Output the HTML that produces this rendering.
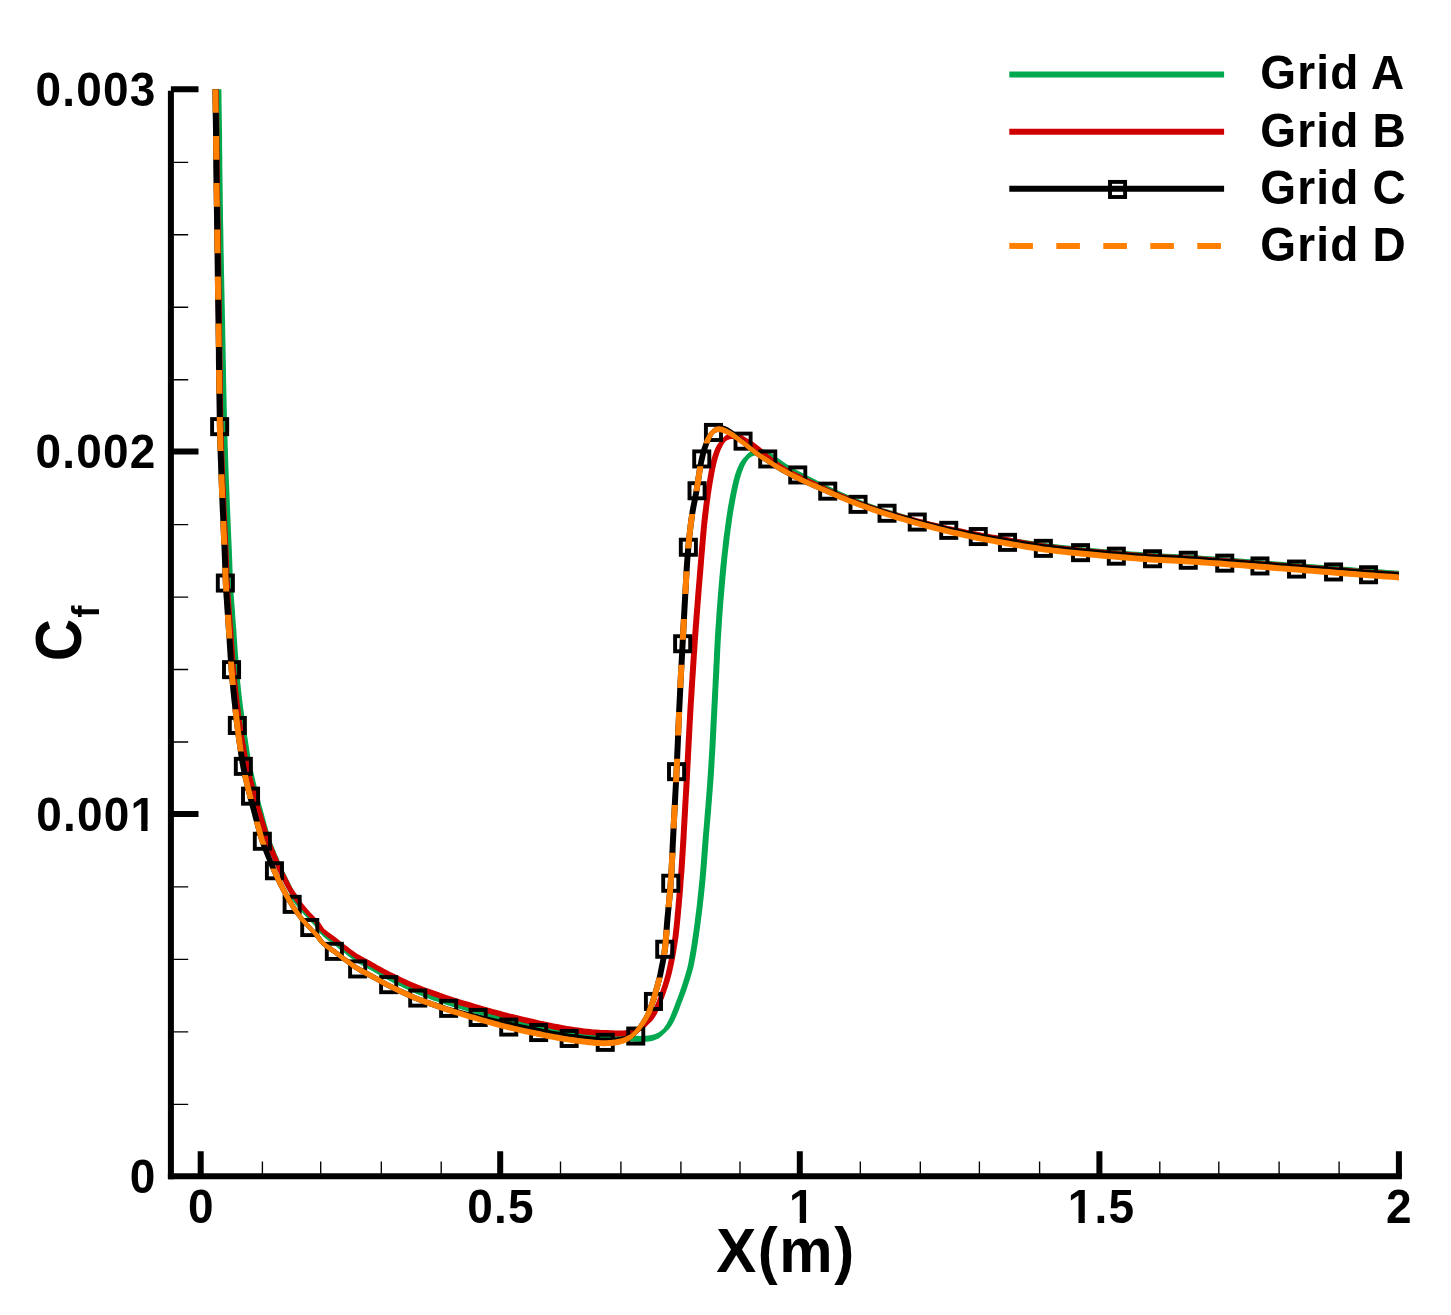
<!DOCTYPE html>
<html lang="en"><head><meta charset="utf-8"><title>Cf vs X - grid convergence</title>
<style>html,body{margin:0;padding:0;background:#fff}svg{display:block}</style></head>
<body>
<svg width="1451" height="1315" viewBox="0 0 1451 1315">
<defs>
<clipPath id="plot"><rect x="100" y="89.2" width="1299.0" height="1100"/></clipPath>
<clipPath id="dash"><rect x="100" y="80" width="200.0" height="32.8"/><rect x="100" y="136" width="200.0" height="23.7"/><rect x="100" y="183" width="200.0" height="23.8"/><rect x="100" y="229.6" width="200.0" height="23.7"/><rect x="100" y="276.6" width="200.0" height="23.2"/><rect x="100" y="323.5" width="200.0" height="23.4"/><rect x="100" y="370.1" width="200.0" height="23.7"/><rect x="100" y="417.1" width="200.0" height="33.8"/><rect x="100" y="474.2" width="200.0" height="23.7"/><rect x="100" y="521.1" width="200.0" height="23.7"/><rect x="100" y="567.7" width="200.0" height="23.7"/><rect x="100" y="614.7" width="200.0" height="23.7"/><rect x="100" y="661.6" width="200.0" height="23.4"/><rect x="100" y="709.2" width="200.0" height="42.4"/><rect x="100" y="774.9" width="200.0" height="24.1"/><rect x="100" y="821.5" width="200.0" height="23.2"/><rect x="100" y="868.5" width="200.0" height="331.5"/><rect x="300.0" y="0" width="342.0" height="1315"/><rect x="642.0" y="977.5" width="70.0" height="222.5"/><rect x="642.0" y="929.8" width="70.0" height="25.1"/><rect x="642.0" y="852.8" width="70.0" height="54.4"/><rect x="642.0" y="805.1" width="70.0" height="23.4"/><rect x="642.0" y="758.8" width="70.0" height="23.5"/><rect x="642.0" y="712" width="70.0" height="23.4"/><rect x="642.0" y="664.8" width="70.0" height="23.2"/><rect x="642.0" y="619.1" width="70.0" height="20.6"/><rect x="642.0" y="571.2" width="70.0" height="22.8"/><rect x="642.0" y="514.1" width="70.0" height="34.3"/><rect x="642.0" y="466.2" width="70.0" height="25.1"/><rect x="642.0" y="300" width="70.0" height="143.4"/><rect x="712.0" y="0" width="739.0" height="1315"/></clipPath>
</defs>
<rect width="1451" height="1315" fill="#fff"/>
<g clip-path="url(#plot)">
<path d="M215.2 60.0L215.2 64.1L215.2 68.2L215.3 72.2L215.3 76.2L215.3 80.4L215.4 84.6L215.4 89.0L215.5 94.5L215.5 100.1L215.6 105.9L215.7 111.8L215.8 117.8L215.9 123.9L216.0 130.0L216.1 136.9L216.1 144.0L216.2 151.1L216.3 158.3L216.3 165.6L216.4 172.8L216.5 180.0L216.6 187.2L216.7 194.3L216.8 201.5L216.9 208.6L217.0 215.8L217.1 222.9L217.3 230.1L217.4 237.2L217.5 244.3L217.6 251.5L217.8 258.6L217.9 265.8L218.0 272.9L218.2 280.1L218.3 287.2L218.5 294.3L218.6 301.5L218.8 308.6L218.9 315.8L219.1 322.9L219.2 330.1L219.3 337.2L219.5 344.4L219.6 351.6L219.7 358.7L219.9 365.9L220.0 373.0L220.2 380.1L220.3 386.9L220.4 393.8L220.6 400.6L220.7 407.4L220.9 414.0L221.0 420.5L221.2 426.8L221.3 431.8L221.4 436.7L221.6 441.4L221.7 446.1L221.9 450.7L222.0 455.3L222.2 460.1L222.4 465.1L222.5 470.0L222.7 475.0L222.9 480.1L223.1 485.1L223.3 490.1L223.5 495.1L223.7 500.1L223.9 505.2L224.1 510.3L224.3 515.3L224.5 520.3L224.7 525.3L224.9 530.1L225.1 534.6L225.3 539.0L225.5 543.4L225.7 547.7L225.9 551.9L226.1 556.1L226.2 560.1L226.3 563.5L226.4 566.9L226.5 570.1L226.6 573.4L226.7 576.6L226.9 579.8L227.0 583.1L227.2 586.6L227.4 590.1L227.6 593.6L227.9 597.1L228.1 600.6L228.4 604.0L228.6 607.2L228.8 609.9L229.0 612.5L229.2 615.0L229.4 617.5L229.6 620.0L229.8 622.6L230.0 625.2L230.2 628.4L230.4 631.6L230.6 634.9L230.9 638.2L231.1 641.6L231.3 644.9L231.5 648.2L231.8 651.3L232.0 654.4L232.2 657.6L232.4 660.6L232.6 663.7L232.9 666.8L233.1 669.8L233.4 672.8L233.6 675.8L233.9 678.7L234.2 681.7L234.5 684.6L234.8 687.5L235.1 690.3L235.4 693.0L235.7 695.6L236.0 698.2L236.3 700.7L236.6 703.3L236.9 705.8L237.2 708.4L237.5 710.9L237.9 713.4L238.2 715.8L238.5 718.3L238.9 720.8L239.2 723.3L239.6 725.8L240.0 728.4L240.4 731.1L240.8 733.7L241.2 736.3L241.6 739.0L242.0 741.7L242.5 744.5L243.0 747.6L243.5 750.8L244.0 754.2L244.5 757.5L245.0 760.7L245.6 763.9L246.2 766.9L246.6 769.1L247.1 771.2L247.6 773.3L248.0 775.2L248.5 777.2L249.0 779.2L249.5 781.2L249.9 783.2L250.4 785.3L250.9 787.3L251.4 789.4L251.9 791.5L252.4 793.6L253.0 795.7L253.6 798.2L254.3 800.7L254.9 803.2L255.6 805.8L256.3 808.3L257.0 810.8L257.6 813.2L258.2 815.3L258.7 817.4L259.2 819.3L259.8 821.3L260.3 823.3L260.9 825.3L261.4 827.3L262.0 829.4L262.6 831.5L263.2 833.7L263.9 835.8L264.5 837.9L265.2 840.1L265.9 842.1L266.6 844.0L267.3 845.9L268.1 847.7L268.8 849.5L269.6 851.3L270.3 853.2L271.2 855.1L272.2 857.5L273.2 860.0L274.4 862.6L275.5 865.3L276.7 867.8L277.7 870.2L278.7 872.3L279.4 873.7L280.0 874.9L280.6 876.1L281.1 877.2L281.7 878.2L282.2 879.3L282.8 880.5L283.4 881.8L284.0 883.1L284.7 884.4L285.3 885.7L286.0 887.0L286.6 888.3L287.3 889.6L288.0 891.0L288.9 892.5L289.8 894.1L290.5 895.5L291.1 896.7L291.3 897.4L291.0 896.7L294.6 893.9L294.9 894.6L294.4 894.3L293.9 893.8L293.4 893.2L292.6 892.0L288.7 895.3L289.3 896.2L290.1 897.1L291.0 898.4L292.1 899.9L293.3 901.5L294.4 903.0L295.3 904.2L295.9 905.0L296.5 905.8L297.2 906.6L297.8 907.3L298.4 908.1L299.0 908.8L299.6 909.6L300.3 910.4L300.9 911.1L301.6 911.9L302.3 912.7L303.0 913.5L303.7 914.3L304.3 915.0L304.9 915.6L305.5 916.2L306.1 916.8L306.6 917.4L307.2 918.0L307.8 918.6L308.4 919.3L309.3 920.2L310.2 921.2L311.2 922.2L312.1 923.2L313.1 924.2L314.0 925.3L314.8 926.3L315.6 927.4L316.4 928.6L317.2 929.7L318.0 930.9L319.0 932.2L320.1 933.4L321.3 934.5L322.7 936.0L324.3 937.4L326.0 938.8L327.8 940.2L329.5 941.4L331.3 942.7L332.9 944.0L334.5 945.2L336.1 946.4L337.7 947.7L339.2 949.0L340.8 950.2L342.4 951.5L344.0 952.8L345.8 954.1L347.5 955.5L349.3 956.9L351.1 958.2L352.9 959.6L354.8 960.9L356.6 962.2L358.5 963.4L360.4 964.5L362.3 965.6L364.2 966.6L366.1 967.6L368.0 968.7L370.0 969.8L372.3 971.1L374.6 972.4L377.0 973.8L379.4 975.3L382.0 976.7L384.6 978.2L387.4 979.8L391.2 981.8L395.4 983.9L399.8 986.1L404.3 988.2L408.7 990.3L412.9 992.2L416.7 993.9L419.3 995.0L421.7 996.0L424.0 996.9L426.2 997.8L428.4 998.6L430.6 999.4L432.8 1000.2L434.9 1000.9L437.0 1001.6L439.0 1002.4L441.0 1003.1L443.1 1003.8L445.3 1004.5L447.7 1005.3L451.5 1006.5L455.7 1007.8L460.2 1009.1L464.8 1010.5L469.3 1011.8L473.6 1013.0L477.4 1014.1L479.9 1014.8L482.3 1015.5L484.6 1016.1L486.8 1016.7L488.9 1017.3L491.1 1017.9L493.2 1018.5L495.3 1019.1L497.4 1019.6L499.4 1020.2L501.4 1020.7L503.5 1021.3L505.7 1021.8L508.1 1022.4L512.0 1023.3L516.2 1024.3L520.8 1025.4L525.5 1026.4L530.0 1027.4L534.3 1028.3L538.0 1029.1L540.2 1029.5L542.2 1029.9L544.0 1030.3L545.8 1030.7L547.6 1031.1L549.5 1031.4L551.4 1031.8L553.8 1032.2L556.1 1032.7L558.6 1033.1L561.0 1033.6L563.5 1034.0L566.1 1034.5L568.6 1034.9L571.5 1035.3L574.5 1035.8L577.5 1036.2L580.5 1036.6L583.5 1037.0L586.6 1037.4L589.6 1037.8L592.8 1038.2L596.0 1038.5L599.2 1038.9L602.4 1039.2L605.6 1039.6L608.7 1039.9L611.7 1040.2L614.4 1040.4L617.0 1040.6L619.6 1040.9L622.2 1041.0L624.8 1041.2L627.3 1041.4L629.9 1041.5L632.4 1041.6L634.9 1041.7L637.5 1041.8L640.0 1041.9L642.5 1041.9L644.8 1041.8L646.9 1041.7L648.2 1041.5L649.5 1041.4L650.7 1041.2L651.8 1040.9L652.8 1040.7L653.8 1040.4L654.8 1040.0L655.6 1039.8L656.4 1039.5L657.1 1039.1L657.9 1038.8L658.6 1038.4L659.3 1037.9L659.9 1037.5L660.6 1036.9L661.3 1036.4L662.0 1035.8L662.7 1035.2L663.3 1034.6L663.9 1034.0L664.5 1033.4L665.1 1032.9L665.6 1032.3L666.2 1031.7L666.8 1031.2L667.4 1030.6L668.0 1030.0L668.7 1029.4L669.4 1028.5L670.1 1027.6L670.8 1026.7L671.4 1025.7L672.1 1024.7L672.7 1023.6L673.4 1022.5L674.0 1021.3L674.7 1020.0L675.3 1018.6L675.9 1017.2L676.5 1015.8L677.1 1014.4L677.7 1013.0L678.3 1011.5L678.9 1009.9L679.5 1008.4L680.1 1006.8L680.7 1005.2L681.3 1003.6L681.9 1002.0L682.5 1000.4L683.1 998.9L683.7 997.3L684.3 995.7L684.9 994.2L685.5 992.6L686.1 990.9L686.7 989.2L687.3 987.5L687.8 985.7L688.4 984.0L689.0 982.2L689.5 980.5L690.0 978.9L690.5 977.4L690.9 976.0L691.4 974.6L691.8 973.2L692.2 971.8L692.6 970.3L693.0 968.7L693.6 966.4L694.1 964.0L694.6 961.4L695.1 958.8L695.6 956.2L696.1 953.6L696.5 951.0L696.9 948.5L697.3 946.0L697.7 943.5L698.1 940.9L698.4 938.4L698.8 935.9L699.1 933.4L699.5 930.8L699.9 928.3L700.2 925.7L700.6 923.1L700.9 920.5L701.2 918.0L701.6 915.4L701.9 912.8L702.2 910.3L702.5 907.7L702.8 905.2L703.1 902.6L703.4 900.0L703.7 897.3L704.0 894.5L704.3 891.6L704.6 888.7L704.9 885.8L705.2 882.7L705.5 879.6L705.8 876.3L706.2 871.6L706.6 866.7L707.0 861.6L707.4 856.3L707.8 850.9L708.2 845.6L708.6 840.2L709.0 834.6L709.5 828.8L710.0 823.0L710.5 817.2L711.0 811.4L711.4 805.7L711.9 800.2L712.2 795.5L712.6 790.9L712.9 786.4L713.3 782.0L713.6 777.5L713.9 772.9L714.2 768.2L714.5 762.7L714.8 757.2L715.2 751.5L715.5 745.8L715.8 740.0L716.1 734.1L716.4 728.2L716.7 721.5L717.1 714.8L717.4 708.0L717.8 701.1L718.1 694.1L718.4 687.1L718.8 680.1L719.2 672.9L719.5 665.6L719.9 658.3L720.2 650.9L720.6 643.5L721.0 636.0L721.5 628.5L722.0 620.4L722.6 612.1L723.2 603.8L723.9 595.4L724.6 587.2L725.3 579.2L726.0 571.5L726.6 565.2L727.2 559.1L727.8 553.1L728.5 547.2L729.2 541.5L729.8 535.9L730.5 530.5L731.2 526.0L731.8 521.6L732.4 517.3L733.0 513.1L733.7 509.0L734.4 505.0L735.1 500.9L735.8 497.2L736.5 493.4L737.3 489.7L738.1 486.0L738.9 482.5L739.7 479.2L740.7 476.1L741.3 474.0L742.0 472.0L742.7 470.1L743.4 468.2L744.1 466.5L744.9 464.9L745.8 463.3L746.5 462.1L747.2 461.0L748.0 459.8L748.8 458.8L749.8 457.9L750.8 457.2L751.8 456.6L752.6 456.2L753.5 455.9L754.3 455.6L755.2 455.4L756.0 455.2L756.9 455.1L757.7 454.9L758.4 454.9L759.2 454.9L760.0 454.9L760.8 455.0L761.6 455.1L762.4 455.2L763.2 455.4L764.0 455.6L764.7 455.8L765.5 456.1L766.3 456.4L767.0 456.8L767.8 457.2L768.7 457.6L769.6 458.1L770.5 458.7L771.4 459.3L772.4 460.0L773.4 460.8L774.5 461.6L775.6 462.4L777.2 463.5L778.9 464.7L780.6 466.0L782.5 467.3L784.5 468.7L786.5 470.0L788.7 471.4L791.7 473.2L795.0 475.1L798.4 477.0L802.0 478.8L805.6 480.7L809.2 482.6L812.8 484.4L816.4 486.2L820.1 488.0L823.8 489.8L827.5 491.6L831.2 493.4L835.0 495.2L838.9 496.9L843.1 498.7L847.3 500.6L851.6 502.4L855.9 504.2L860.3 506.0L864.7 507.7L869.0 509.4L873.4 510.9L877.9 512.4L882.4 513.8L886.9 515.2L891.2 516.5L895.3 517.8L899.2 518.9L901.8 519.8L904.2 520.5L906.6 521.3L908.9 522.0L911.2 522.7L913.7 523.5L916.4 524.2L920.5 525.3L924.8 526.5L929.4 527.6L934.1 528.8L938.9 530.0L943.6 531.1L948.2 532.1L952.4 533.1L956.7 534.0L960.9 534.9L965.1 535.8L969.3 536.6L973.4 537.4L977.7 538.2L981.8 539.0L986.0 539.8L990.1 540.5L994.2 541.2L998.4 541.9L1002.7 542.6L1007.0 543.3L1012.0 544.1L1017.0 544.9L1022.1 545.7L1027.3 546.4L1032.5 547.2L1037.7 547.9L1042.9 548.6L1048.2 549.3L1053.5 550.0L1058.9 550.6L1064.2 551.2L1069.6 551.8L1074.9 552.3L1080.2 552.9L1085.4 553.4L1090.5 553.9L1095.7 554.4L1100.8 554.8L1105.9 555.3L1111.0 555.7L1116.0 556.2L1120.9 556.6L1125.7 557.0L1130.5 557.4L1135.2 557.7L1140.0 558.1L1144.9 558.5L1149.8 558.8L1155.2 559.1L1160.6 559.4L1166.1 559.7L1171.6 559.9L1177.1 560.2L1182.6 560.5L1188.0 560.8L1193.3 561.1L1198.5 561.5L1203.7 561.8L1208.9 562.2L1214.1 562.6L1219.3 563.0L1224.5 563.4L1229.5 563.8L1234.6 564.1L1239.6 564.5L1244.6 564.9L1249.6 565.3L1254.6 565.7L1259.7 566.1L1264.9 566.5L1270.1 566.9L1275.3 567.3L1280.6 567.7L1285.8 568.1L1291.1 568.6L1296.4 569.0L1301.6 569.4L1306.9 569.8L1312.2 570.2L1317.5 570.6L1322.8 571.1L1328.0 571.5L1333.3 571.9L1338.3 572.3L1343.4 572.7L1348.5 573.1L1353.5 573.5L1358.5 573.8L1363.4 574.2L1368.3 574.6L1372.8 574.9L1377.3 575.2L1381.7 575.6L1386.1 575.9L1390.4 576.2L1394.6 576.5L1398.6 576.8L1401.8 577.0L1404.9 577.3L1407.9 577.5L1410.9 577.7L1413.8 577.9L1416.8 578.2L1419.8 578.4L1420.2 572.4L1417.2 572.2L1414.3 572.0L1411.3 571.7L1408.4 571.5L1405.4 571.3L1402.2 571.1L1399.0 570.8L1395.0 570.5L1390.8 570.2L1386.5 569.9L1382.1 569.6L1377.7 569.3L1373.2 568.9L1368.7 568.6L1363.9 568.3L1358.9 567.9L1354.0 567.5L1348.9 567.1L1343.9 566.7L1338.8 566.3L1333.7 565.9L1328.5 565.5L1323.3 565.1L1318.0 564.7L1312.7 564.3L1307.4 563.9L1302.1 563.4L1296.8 563.0L1291.6 562.6L1286.3 562.2L1281.1 561.8L1275.8 561.4L1270.6 560.9L1265.3 560.5L1260.1 560.1L1255.1 559.7L1250.0 559.3L1245.0 558.9L1240.0 558.6L1235.0 558.2L1230.0 557.8L1224.9 557.4L1219.8 557.0L1214.6 556.6L1209.4 556.3L1204.1 555.9L1198.9 555.5L1193.7 555.1L1188.4 554.8L1182.9 554.5L1177.4 554.2L1171.9 553.9L1166.4 553.7L1160.9 553.4L1155.5 553.1L1150.2 552.8L1145.3 552.5L1140.5 552.1L1135.7 551.8L1130.9 551.4L1126.2 551.0L1121.4 550.6L1116.6 550.2L1111.5 549.8L1106.4 549.3L1101.3 548.9L1096.2 548.4L1091.1 547.9L1086.0 547.4L1080.8 546.9L1075.5 546.4L1070.2 545.8L1064.9 545.3L1059.6 544.7L1054.2 544.1L1048.9 543.4L1043.7 542.8L1038.5 542.1L1033.3 541.3L1028.1 540.6L1023.0 539.8L1017.9 539.0L1012.9 538.2L1008.0 537.4L1003.6 536.7L999.4 536.1L995.2 535.4L991.1 534.7L987.0 533.9L982.9 533.2L978.7 532.4L974.6 531.6L970.4 530.8L966.2 530.0L962.1 529.1L957.9 528.3L953.7 527.4L949.4 526.4L944.9 525.4L940.2 524.3L935.5 523.1L930.8 522.0L926.3 520.8L922.0 519.7L918.0 518.7L915.3 517.9L912.8 517.2L910.5 516.5L908.3 515.8L906.0 515.1L903.5 514.3L900.8 513.5L897.0 512.3L892.9 511.0L888.5 509.7L884.1 508.4L879.7 507.0L875.3 505.5L871.0 504.0L866.7 502.5L862.3 500.8L858.0 499.1L853.7 497.3L849.5 495.5L845.3 493.7L841.1 491.9L837.3 490.2L833.5 488.5L829.8 486.7L826.1 485.0L822.5 483.2L818.8 481.4L815.2 479.6L811.7 477.8L808.0 476.0L804.5 474.1L800.9 472.3L797.5 470.5L794.3 468.7L791.3 467.0L789.2 465.7L787.2 464.5L785.3 463.2L783.5 461.9L781.7 460.7L780.0 459.5L778.4 458.4L777.3 457.6L776.3 456.9L775.3 456.1L774.3 455.4L773.3 454.6L772.3 453.9L771.3 453.2L770.4 452.7L769.5 452.1L768.7 451.6L767.7 451.1L766.8 450.6L765.8 450.2L764.8 449.8L763.7 449.5L762.6 449.3L761.5 449.1L760.4 448.9L759.2 448.9L758.1 448.9L756.9 449.1L755.7 449.3L754.5 449.6L753.4 450.0L752.2 450.5L751.1 451.1L750.0 451.8L749.0 452.6L747.9 453.6L746.8 454.6L745.7 455.8L744.6 456.9L743.5 458.1L742.4 459.3L741.4 460.7L740.3 462.3L739.3 464.1L738.4 466.0L737.5 468.0L736.7 470.0L735.9 472.2L735.1 474.5L734.2 477.7L733.3 481.1L732.4 484.7L731.6 488.4L730.8 492.2L730.0 496.1L729.3 499.9L728.5 503.9L727.8 508.1L727.2 512.2L726.5 516.4L725.9 520.8L725.3 525.2L724.7 529.7L723.9 535.2L723.2 540.8L722.6 546.5L721.9 552.4L721.3 558.5L720.6 564.6L720.0 570.9L719.3 578.6L718.6 586.7L717.9 594.9L717.3 603.3L716.6 611.7L716.1 620.0L715.5 628.1L715.0 635.7L714.6 643.1L714.2 650.6L713.9 658.0L713.5 665.3L713.2 672.6L712.8 679.9L712.5 686.8L712.1 693.8L711.8 700.8L711.4 707.7L711.1 714.5L710.7 721.2L710.4 727.8L710.1 733.8L709.8 739.7L709.5 745.5L709.2 751.2L708.9 756.8L708.5 762.4L708.2 767.8L707.9 772.5L707.6 777.1L707.3 781.6L707.0 786.0L706.6 790.5L706.3 795.0L705.9 799.8L705.5 805.3L705.0 810.9L704.5 816.7L704.1 822.5L703.6 828.3L703.1 834.1L702.6 839.8L702.2 845.1L701.8 850.5L701.4 855.8L701.0 861.1L700.6 866.2L700.2 871.1L699.8 875.7L699.5 879.0L699.2 882.2L698.9 885.2L698.6 888.1L698.3 891.0L698.0 893.8L697.7 896.7L697.4 899.3L697.2 901.9L696.9 904.5L696.6 907.0L696.3 909.5L696.0 912.1L695.6 914.6L695.3 917.2L695.0 919.8L694.7 922.3L694.3 924.9L694.0 927.5L693.6 930.0L693.3 932.6L692.9 935.1L692.6 937.6L692.2 940.1L691.8 942.6L691.5 945.1L691.1 947.5L690.7 950.0L690.2 952.5L689.8 955.1L689.3 957.7L688.8 960.3L688.4 962.8L687.9 965.1L687.4 967.3L687.0 968.9L686.6 970.3L686.2 971.6L685.8 973.0L685.4 974.3L685.0 975.7L684.6 977.1L684.1 978.8L683.5 980.5L683.0 982.2L682.4 984.0L681.9 985.7L681.3 987.4L680.7 989.1L680.2 990.6L679.6 992.2L679.0 993.8L678.5 995.3L677.9 996.9L677.3 998.4L676.7 1000.0L676.1 1001.6L675.5 1003.2L674.9 1004.8L674.3 1006.4L673.7 1007.9L673.1 1009.5L672.5 1011.0L672.0 1012.3L671.4 1013.7L670.9 1015.1L670.3 1016.4L669.8 1017.7L669.2 1018.9L668.6 1020.1L668.1 1021.1L667.6 1022.0L667.1 1023.0L666.6 1023.9L666.0 1024.8L665.5 1025.6L664.9 1026.4L664.5 1027.1L664.1 1027.6L663.7 1028.2L663.2 1028.7L662.6 1029.2L662.1 1029.7L661.5 1030.2L660.9 1030.7L660.3 1031.2L659.7 1031.6L659.1 1032.1L658.5 1032.5L657.9 1032.8L657.3 1033.1L656.7 1033.4L656.1 1033.6L655.6 1033.8L655.0 1034.0L654.4 1034.2L653.8 1034.4L653.2 1034.6L652.3 1034.8L651.5 1035.0L650.6 1035.2L649.6 1035.3L648.7 1035.5L647.6 1035.6L646.5 1035.7L644.6 1035.8L642.4 1035.9L640.1 1035.9L637.6 1035.8L635.1 1035.7L632.6 1035.6L630.1 1035.5L627.6 1035.4L625.1 1035.2L622.6 1035.1L620.1 1034.9L617.5 1034.7L614.9 1034.5L612.3 1034.2L609.3 1033.9L606.2 1033.6L603.0 1033.3L599.8 1033.0L596.6 1032.6L593.5 1032.2L590.4 1031.9L587.3 1031.5L584.3 1031.1L581.3 1030.7L578.3 1030.3L575.3 1029.9L572.4 1029.5L569.6 1029.0L567.0 1028.6L564.5 1028.2L562.1 1027.8L559.6 1027.3L557.2 1026.9L554.9 1026.4L552.6 1026.0L550.6 1025.6L548.8 1025.3L547.0 1024.9L545.2 1024.6L543.4 1024.2L541.4 1023.8L539.2 1023.3L535.5 1022.5L531.3 1021.6L526.7 1020.7L522.1 1019.6L517.5 1018.6L513.3 1017.7L509.5 1016.8L507.1 1016.2L504.9 1015.6L502.9 1015.1L500.8 1014.6L498.9 1014.0L496.9 1013.5L494.8 1012.9L492.6 1012.3L490.4 1011.7L488.3 1011.2L486.1 1010.6L483.9 1009.9L481.5 1009.3L479.0 1008.6L475.2 1007.5L470.9 1006.2L466.4 1004.9L461.9 1003.6L457.4 1002.3L453.2 1001.0L449.5 999.8L447.1 999.1L444.9 998.4L442.8 997.7L440.8 997.0L438.9 996.3L436.8 995.6L434.8 994.8L432.5 994.0L430.4 993.3L428.2 992.5L426.0 991.7L423.7 990.8L421.4 989.9L418.9 988.9L415.1 987.3L411.0 985.4L406.6 983.3L402.2 981.2L397.8 979.1L393.6 977.0L389.8 975.1L387.1 973.6L384.5 972.2L382.0 970.8L379.6 969.4L377.2 968.0L374.9 966.6L372.6 965.2L370.6 964.1L368.6 963.0L366.7 962.0L364.8 961.0L363.0 960.0L361.2 959.0L359.4 957.9L357.5 956.8L355.7 955.6L354.0 954.3L352.2 953.0L350.4 951.7L348.7 950.3L347.0 949.0L345.3 947.8L343.7 946.6L342.2 945.3L340.6 944.0L339.0 942.8L337.5 941.5L335.9 940.2L334.2 938.9L332.4 937.6L330.7 936.3L328.9 935.1L327.3 933.9L325.7 932.7L324.3 931.5L323.4 930.4L322.6 929.2L321.9 928.1L321.1 926.9L320.3 925.7L319.4 924.5L318.4 923.4L317.4 922.3L316.4 921.2L315.3 920.2L314.3 919.2L313.4 918.2L312.4 917.2L311.6 916.3L311.0 915.6L310.4 915.0L309.8 914.4L309.3 913.8L308.8 913.2L308.2 912.6L307.7 912.0L307.0 911.3L306.4 910.5L305.8 909.8L305.1 909.0L304.5 908.2L303.8 907.4L303.2 906.6L302.6 905.9L302.0 905.1L301.4 904.4L300.9 903.7L300.3 902.9L299.7 902.1L299.1 901.3L298.2 900.1L297.2 898.6L296.1 897.1L295.0 895.6L294.2 894.4L293.8 893.5L294.1 893.6L290.5 897.1L290.5 896.6L290.9 897.0L291.4 897.5L292.0 898.2L293.0 899.5L297.0 896.9L296.6 895.4L296.0 894.4L295.3 893.1L294.4 891.6L293.5 890.0L292.7 888.5L292.0 887.2L291.4 885.9L290.8 884.6L290.2 883.3L289.5 882.0L288.9 880.7L288.2 879.4L287.6 878.1L287.0 877.0L286.5 875.8L285.9 874.8L285.4 873.7L284.9 872.6L284.3 871.4L283.7 870.1L282.7 867.9L281.7 865.6L280.6 863.1L279.4 860.4L278.3 857.8L277.2 855.3L276.2 852.9L275.5 851.0L274.7 849.2L274.0 847.4L273.3 845.6L272.6 843.9L271.9 842.1L271.3 840.3L270.6 838.3L270.0 836.2L269.4 834.1L268.8 832.0L268.2 829.9L267.6 827.8L267.0 825.7L266.4 823.7L265.9 821.8L265.4 819.8L264.8 817.8L264.3 815.9L263.8 813.8L263.2 811.8L262.6 809.3L261.9 806.9L261.2 804.3L260.5 801.8L259.9 799.2L259.2 796.7L258.6 794.3L258.1 792.2L257.6 790.1L257.1 788.0L256.6 786.0L256.1 783.9L255.6 781.9L255.1 779.8L254.7 777.8L254.2 775.9L253.7 773.9L253.3 772.0L252.8 770.0L252.4 767.9L251.9 765.7L251.4 762.8L250.9 759.7L250.3 756.5L249.8 753.2L249.3 749.9L248.8 746.7L248.3 743.5L247.9 740.8L247.5 738.1L247.0 735.4L246.6 732.8L246.2 730.2L245.8 727.6L245.5 725.0L245.1 722.5L244.8 720.0L244.4 717.5L244.1 715.1L243.8 712.6L243.4 710.1L243.1 707.6L242.8 705.1L242.5 702.6L242.2 700.0L241.9 697.5L241.6 694.9L241.3 692.3L241.0 689.7L240.7 686.9L240.4 684.0L240.1 681.1L239.9 678.2L239.6 675.2L239.3 672.3L239.1 669.4L238.8 666.3L238.6 663.3L238.4 660.2L238.2 657.1L237.9 654.0L237.7 650.9L237.5 647.8L237.3 644.5L237.1 641.2L236.8 637.8L236.6 634.5L236.4 631.2L236.2 627.9L235.9 624.8L235.7 622.1L235.5 619.5L235.3 617.0L235.1 614.6L235.0 612.0L234.8 609.5L234.6 606.8L234.3 603.5L234.1 600.2L233.8 596.7L233.6 593.2L233.4 589.7L233.2 586.3L233.0 582.9L232.8 579.6L232.7 576.4L232.6 573.2L232.5 570.0L232.4 566.7L232.3 563.3L232.2 559.9L232.0 555.8L231.9 551.7L231.7 547.4L231.5 543.1L231.3 538.7L231.1 534.3L230.9 529.9L230.7 525.0L230.5 520.1L230.3 515.1L230.1 510.0L229.9 505.0L229.7 499.9L229.5 494.9L229.3 489.9L229.1 484.9L228.9 479.8L228.7 474.8L228.5 469.8L228.3 464.9L228.2 459.9L228.0 455.2L227.9 450.5L227.7 445.9L227.6 441.2L227.4 436.5L227.3 431.7L227.2 426.6L227.0 420.4L226.9 413.9L226.7 407.3L226.6 400.5L226.4 393.6L226.3 386.8L226.1 379.9L226.0 372.9L225.9 365.8L225.7 358.6L225.6 351.5L225.5 344.3L225.3 337.1L225.2 329.9L225.1 322.8L224.9 315.7L224.8 308.5L224.6 301.4L224.5 294.2L224.3 287.1L224.2 279.9L224.0 272.8L223.9 265.7L223.8 258.5L223.6 251.4L223.5 244.2L223.4 237.1L223.3 229.9L223.1 222.8L223.0 215.7L222.9 208.5L222.8 201.4L222.7 194.2L222.6 187.1L222.5 180.0L222.4 172.8L222.3 165.5L222.3 158.3L222.2 151.1L222.1 143.9L222.1 136.8L222.0 130.0L221.9 123.8L221.8 117.7L221.7 111.7L221.6 105.8L221.5 100.0L221.5 94.4L221.4 89.0L221.4 84.6L221.3 80.3L221.3 76.2L221.3 72.1L221.2 68.1L221.2 64.1L221.2 60.0Z" fill="#00a850"/>
<path d="M212.5 60.0L212.6 64.1L212.6 68.2L212.6 72.2L212.6 76.2L212.7 80.4L212.7 84.6L212.8 89.0L212.8 94.5L212.9 100.1L213.0 105.9L213.1 111.8L213.2 117.8L213.3 123.9L213.4 130.0L213.5 136.9L213.6 144.0L213.6 151.1L213.7 158.3L213.8 165.6L213.8 172.8L213.9 180.0L214.0 187.2L214.1 194.3L214.2 201.5L214.3 208.6L214.4 215.8L214.6 222.9L214.7 230.0L214.8 237.2L214.9 244.3L215.0 251.5L215.1 258.6L215.2 265.8L215.3 272.9L215.4 280.0L215.5 287.2L215.6 294.3L215.7 301.5L215.8 308.6L215.9 315.8L216.0 322.9L216.1 330.0L216.2 337.2L216.3 344.4L216.4 351.6L216.5 358.7L216.6 365.9L216.7 373.0L216.8 380.0L216.9 386.9L216.9 393.7L217.0 400.6L217.1 407.4L217.2 414.0L217.4 420.5L217.5 426.8L217.6 431.8L217.8 436.7L217.9 441.4L218.1 446.1L218.2 450.7L218.4 455.4L218.6 460.1L218.8 465.1L219.0 470.1L219.1 475.1L219.3 480.1L219.6 485.1L219.8 490.1L220.0 495.1L220.2 500.2L220.4 505.2L220.6 510.3L220.9 515.3L221.1 520.3L221.3 525.3L221.6 530.1L221.8 534.6L222.0 539.0L222.2 543.4L222.4 547.7L222.6 551.9L222.8 556.1L222.9 560.1L223.1 563.6L223.2 566.9L223.3 570.1L223.4 573.4L223.5 576.6L223.6 579.9L223.8 583.2L224.0 586.6L224.2 590.1L224.5 593.6L224.7 597.1L225.0 600.6L225.2 604.0L225.4 607.2L225.6 609.9L225.8 612.5L226.0 615.0L226.2 617.5L226.4 620.0L226.6 622.6L226.8 625.2L227.1 628.4L227.3 631.6L227.5 634.9L227.8 638.3L228.0 641.6L228.2 644.9L228.5 648.2L228.7 651.3L228.9 654.5L229.2 657.6L229.4 660.6L229.6 663.7L229.9 666.8L230.1 669.9L230.4 672.8L230.7 675.8L231.0 678.7L231.2 681.7L231.6 684.6L231.9 687.5L232.2 690.3L232.5 693.0L232.8 695.6L233.1 698.2L233.4 700.7L233.7 703.3L234.0 705.8L234.4 708.4L234.7 710.9L235.0 713.4L235.3 715.8L235.7 718.3L236.0 720.8L236.3 723.3L236.7 725.8L237.1 728.4L237.5 731.1L237.9 733.7L238.3 736.3L238.7 739.0L239.1 741.7L239.6 744.5L240.1 747.6L240.7 750.9L241.3 754.2L241.9 757.6L242.6 760.8L243.2 764.0L243.8 766.9L244.4 769.2L244.9 771.3L245.4 773.3L245.9 775.3L246.5 777.3L247.0 779.2L247.5 781.2L248.0 783.3L248.5 785.3L249.1 787.4L249.6 789.4L250.1 791.5L250.7 793.6L251.3 795.8L251.9 798.2L252.6 800.7L253.3 803.3L254.1 805.8L254.8 808.4L255.5 810.9L256.2 813.3L256.9 815.4L257.5 817.5L258.2 819.5L258.8 821.4L259.4 823.4L260.0 825.4L260.7 827.3L261.3 829.4L261.9 831.5L262.6 833.7L263.2 835.8L263.9 838.0L264.6 840.1L265.3 842.1L266.0 844.1L266.8 845.9L267.5 847.7L268.3 849.5L269.0 851.3L269.8 853.2L270.7 855.1L271.7 857.5L272.8 860.0L274.0 862.7L275.2 865.3L276.3 867.8L277.4 870.2L278.4 872.3L279.0 873.7L279.6 874.9L280.2 876.0L280.8 877.2L281.3 878.2L281.9 879.3L282.4 880.5L283.1 881.8L283.7 883.1L284.4 884.4L285.1 885.8L285.8 887.1L286.6 888.4L287.4 889.7L288.4 891.2L289.5 892.7L290.7 894.3L291.8 895.8L292.7 897.1L293.3 897.9L292.8 897.7L297.1 895.1L296.6 894.3L295.8 893.3L294.9 892.1L294.1 891.1L293.4 890.3L288.4 891.5L289.4 893.2L290.1 894.1L291.0 895.4L292.1 897.0L293.2 898.6L294.3 900.1L295.2 901.4L295.9 902.2L296.5 903.1L297.1 903.8L297.7 904.6L298.3 905.4L299.0 906.1L299.6 906.9L300.2 907.7L300.9 908.5L301.6 909.3L302.3 910.0L303.0 910.8L303.7 911.6L304.3 912.3L304.9 913.0L305.5 913.6L306.1 914.2L306.6 914.8L307.2 915.4L307.8 916.0L308.4 916.7L309.3 917.6L310.2 918.5L311.2 919.5L312.1 920.6L313.1 921.6L314.0 922.7L314.8 923.7L315.6 924.8L316.4 926.0L317.2 927.1L318.0 928.4L319.0 929.6L320.1 930.8L321.3 931.9L322.7 933.4L324.3 934.8L326.0 936.2L327.8 937.5L329.5 938.8L331.3 940.1L333.0 941.3L334.5 942.6L336.1 943.8L337.7 945.1L339.2 946.3L340.8 947.6L342.4 948.8L344.1 950.1L345.8 951.4L347.5 952.8L349.3 954.1L351.1 955.5L352.9 956.8L354.8 958.1L356.6 959.4L358.5 960.5L360.4 961.6L362.3 962.7L364.2 963.7L366.1 964.7L368.0 965.7L370.0 966.8L372.3 968.1L374.6 969.4L377.0 970.8L379.4 972.2L382.0 973.6L384.6 975.0L387.4 976.5L391.2 978.5L395.4 980.5L399.8 982.6L404.3 984.7L408.7 986.7L412.9 988.6L416.7 990.2L419.3 991.3L421.7 992.2L424.0 993.1L426.3 993.9L428.5 994.6L430.6 995.4L432.9 996.2L434.9 996.9L437.0 997.6L439.0 998.4L441.0 999.1L443.1 999.8L445.3 1000.6L447.7 1001.4L451.5 1002.7L455.7 1004.0L460.2 1005.4L464.8 1006.7L469.3 1008.1L473.5 1009.4L477.4 1010.5L479.9 1011.3L482.3 1012.0L484.5 1012.6L486.7 1013.2L488.9 1013.8L491.0 1014.5L493.2 1015.1L495.3 1015.6L497.4 1016.2L499.4 1016.7L501.4 1017.3L503.5 1017.8L505.7 1018.4L508.1 1019.0L511.9 1020.0L516.2 1021.0L520.8 1022.1L525.4 1023.2L530.0 1024.2L534.2 1025.2L538.0 1026.1L540.1 1026.6L542.1 1027.0L544.0 1027.4L545.8 1027.8L547.6 1028.2L549.5 1028.6L551.4 1029.0L553.8 1029.5L556.1 1029.9L558.6 1030.4L561.0 1030.8L563.5 1031.3L566.1 1031.7L568.6 1032.1L571.5 1032.6L574.5 1033.1L577.5 1033.5L580.6 1034.0L583.6 1034.4L586.7 1034.8L589.7 1035.1L592.6 1035.3L595.6 1035.6L598.5 1035.7L601.5 1035.9L604.3 1036.0L607.2 1036.1L609.9 1036.2L612.3 1036.3L614.7 1036.4L617.1 1036.5L619.5 1036.5L621.9 1036.5L624.1 1036.4L626.3 1036.2L628.0 1035.9L629.6 1035.6L631.2 1035.2L632.7 1034.8L634.2 1034.3L635.7 1033.8L637.1 1033.1L638.4 1032.4L639.7 1031.6L641.0 1030.8L642.1 1030.0L643.3 1029.1L644.4 1028.2L645.5 1027.3L646.5 1026.5L647.4 1025.6L648.4 1024.6L649.3 1023.6L650.3 1022.7L651.2 1021.8L652.1 1020.9L652.9 1019.9L653.7 1019.0L654.3 1018.0L655.0 1017.1L655.6 1016.1L656.2 1015.1L656.8 1014.0L657.4 1012.8L658.0 1011.6L658.7 1010.3L659.3 1009.1L659.9 1007.7L660.5 1006.4L661.0 1005.1L661.7 1003.6L662.3 1002.1L662.9 1000.5L663.6 999.0L664.2 997.4L664.8 995.8L665.4 994.1L666.0 992.4L666.6 990.6L667.2 988.8L667.8 987.0L668.4 985.1L669.0 983.3L669.6 981.4L670.1 979.5L670.6 977.7L671.1 975.8L671.6 973.9L672.1 971.9L672.6 969.8L673.1 967.6L673.8 964.2L674.5 960.5L675.3 956.6L676.0 952.5L676.7 948.3L677.4 944.1L678.0 939.9L678.7 935.2L679.2 930.5L679.7 925.7L680.2 920.8L680.7 915.9L681.1 910.8L681.6 905.8L682.1 900.0L682.6 894.2L683.1 888.2L683.5 882.2L684.0 876.1L684.5 870.0L684.9 863.9L685.3 857.5L685.7 851.1L686.1 844.6L686.5 838.1L686.8 831.5L687.2 824.9L687.6 818.2L688.0 810.8L688.4 803.3L688.8 795.7L689.3 788.1L689.7 780.4L690.1 772.8L690.5 765.2L690.9 757.5L691.3 749.7L691.7 741.9L692.1 734.2L692.5 726.6L692.9 719.2L693.3 712.2L693.6 706.6L693.9 701.3L694.3 696.1L694.6 691.0L694.9 685.9L695.2 680.6L695.6 675.2L696.0 668.8L696.4 662.4L696.8 655.8L697.3 649.1L697.7 642.3L698.2 635.5L698.7 628.5L699.3 620.6L699.9 612.6L700.5 604.3L701.2 596.0L701.8 587.7L702.5 579.5L703.2 571.4L703.8 563.7L704.4 556.0L705.1 548.2L705.7 540.6L706.4 533.1L707.0 525.9L707.8 519.0L708.4 513.7L709.0 508.5L709.6 503.5L710.3 498.7L710.9 494.0L711.6 489.4L712.3 485.0L712.9 481.4L713.5 478.0L714.1 474.6L714.7 471.4L715.3 468.2L716.0 465.2L716.7 462.3L717.3 460.0L717.9 457.8L718.6 455.7L719.2 453.7L719.9 451.8L720.6 449.9L721.4 448.2L722.1 446.9L722.8 445.6L723.5 444.3L724.3 443.1L725.1 442.0L726.0 441.0L727.0 440.4L727.7 440.0L728.4 439.8L729.1 439.5L729.9 439.3L730.6 439.1L731.3 439.0L731.9 438.9L732.6 438.9L733.3 438.9L734.0 438.9L734.8 438.9L735.6 439.0L736.3 439.2L737.1 439.3L738.1 439.6L739.1 440.0L740.2 440.4L741.3 440.9L742.4 441.5L743.5 442.2L744.7 442.8L746.1 443.6L747.5 444.5L749.0 445.4L750.5 446.3L751.9 447.3L753.4 448.2L754.8 449.2L756.1 450.1L757.3 451.0L758.6 452.0L759.8 453.0L761.0 454.0L762.2 455.0L763.5 456.1L764.9 457.2L766.3 458.4L767.6 459.6L769.0 460.8L770.5 462.0L772.0 463.3L773.6 464.5L775.6 466.0L777.7 467.6L779.9 469.1L782.2 470.6L784.5 472.1L786.6 473.4L788.7 474.7L790.2 475.5L791.6 476.3L792.9 477.0L794.3 477.6L795.7 478.3L797.2 479.0L798.8 479.7L802.1 481.3L805.8 483.1L809.8 485.0L814.0 487.0L818.3 489.0L822.6 491.0L826.7 492.9L830.6 494.6L834.5 496.4L838.4 498.1L842.3 499.7L846.3 501.4L850.3 503.0L854.4 504.6L858.8 506.3L863.3 507.9L867.9 509.5L872.4 511.1L877.0 512.6L881.6 514.1L886.2 515.5L890.5 516.9L894.8 518.2L899.1 519.4L903.5 520.6L907.8 521.8L912.1 522.9L916.5 524.1L921.0 525.3L925.5 526.4L930.0 527.6L934.6 528.7L939.1 529.8L943.7 530.9L948.2 531.9L952.4 532.8L956.7 533.7L960.9 534.6L965.1 535.4L969.3 536.3L973.5 537.1L977.7 537.9L981.8 538.7L986.0 539.4L990.1 540.2L994.2 540.9L998.4 541.6L1002.6 542.4L1007.0 543.1L1011.9 544.0L1016.9 544.9L1022.0 545.8L1027.2 546.8L1032.4 547.7L1037.7 548.6L1042.9 549.3L1048.2 550.1L1053.5 550.7L1058.9 551.4L1064.2 552.0L1069.6 552.5L1074.9 553.1L1080.2 553.6L1085.4 554.1L1090.5 554.6L1095.7 555.1L1100.8 555.6L1105.9 556.1L1111.0 556.5L1116.0 556.9L1120.9 557.4L1125.7 557.8L1130.5 558.1L1135.2 558.5L1140.0 558.9L1144.9 559.2L1149.8 559.6L1155.2 559.9L1160.6 560.2L1166.1 560.5L1171.6 560.7L1177.1 561.0L1182.6 561.3L1188.0 561.6L1193.3 561.9L1198.5 562.3L1203.7 562.7L1208.9 563.1L1214.1 563.5L1219.3 563.8L1224.5 564.2L1229.5 564.6L1234.6 565.0L1239.6 565.4L1244.6 565.8L1249.6 566.2L1254.6 566.6L1259.7 567.0L1264.9 567.4L1270.1 567.8L1275.3 568.2L1280.6 568.6L1285.8 569.0L1291.1 569.5L1296.4 569.9L1301.6 570.3L1306.9 570.7L1312.2 571.1L1317.5 571.6L1322.8 572.0L1328.0 572.4L1333.3 572.8L1338.3 573.2L1343.4 573.6L1348.5 574.0L1353.5 574.4L1358.5 574.8L1363.4 575.2L1368.3 575.5L1372.8 575.9L1377.3 576.2L1381.7 576.5L1386.1 576.9L1390.4 577.2L1394.6 577.5L1398.6 577.8L1401.8 578.0L1404.9 578.2L1407.9 578.5L1410.9 578.7L1413.8 578.9L1416.8 579.2L1419.8 579.4L1420.2 573.4L1417.2 573.2L1414.3 573.0L1411.3 572.7L1408.4 572.5L1405.4 572.3L1402.3 572.0L1399.0 571.8L1395.0 571.5L1390.8 571.2L1386.5 570.9L1382.1 570.6L1377.7 570.2L1373.2 569.9L1368.7 569.6L1363.9 569.2L1358.9 568.8L1354.0 568.4L1348.9 568.0L1343.9 567.6L1338.8 567.3L1333.7 566.9L1328.5 566.4L1323.3 566.0L1318.0 565.6L1312.7 565.2L1307.4 564.8L1302.1 564.3L1296.8 563.9L1291.6 563.5L1286.3 563.1L1281.1 562.7L1275.8 562.2L1270.6 561.8L1265.3 561.4L1260.1 561.0L1255.1 560.6L1250.0 560.2L1245.0 559.8L1240.0 559.4L1235.0 559.0L1230.0 558.6L1224.9 558.3L1219.8 557.9L1214.6 557.5L1209.4 557.1L1204.2 556.7L1198.9 556.3L1193.7 556.0L1188.4 555.6L1182.9 555.3L1177.4 555.0L1171.9 554.8L1166.4 554.5L1160.9 554.2L1155.5 553.9L1150.2 553.6L1145.3 553.3L1140.5 552.9L1135.7 552.6L1130.9 552.2L1126.2 551.8L1121.4 551.4L1116.6 551.0L1111.5 550.6L1106.4 550.1L1101.3 549.6L1096.2 549.2L1091.1 548.7L1086.0 548.2L1080.8 547.7L1075.5 547.1L1070.2 546.6L1064.9 546.0L1059.6 545.4L1054.2 544.8L1049.0 544.2L1043.7 543.5L1038.6 542.7L1033.4 541.8L1028.2 541.0L1023.1 540.0L1018.0 539.1L1012.9 538.2L1008.0 537.3L1003.7 536.5L999.4 535.8L995.2 535.1L991.1 534.4L987.0 533.6L982.9 532.9L978.7 532.1L974.6 531.3L970.4 530.5L966.2 529.7L962.1 528.8L957.9 528.0L953.7 527.1L949.4 526.2L945.0 525.2L940.5 524.1L936.0 523.0L931.4 521.9L926.9 520.8L922.4 519.6L917.9 518.5L913.6 517.3L909.3 516.2L905.0 515.0L900.7 513.8L896.4 512.6L892.2 511.4L887.8 510.1L883.4 508.7L878.8 507.2L874.3 505.7L869.7 504.2L865.2 502.6L860.8 501.0L856.4 499.4L852.4 497.8L848.4 496.2L844.5 494.6L840.6 493.0L836.7 491.3L832.8 489.6L828.9 487.9L824.8 486.1L820.6 484.1L816.3 482.1L812.1 480.1L808.1 478.2L804.4 476.4L801.2 474.9L799.5 474.1L798.0 473.4L796.6 472.7L795.3 472.1L794.0 471.5L792.7 470.9L791.3 470.1L789.3 469.0L787.1 467.7L784.9 466.4L782.7 464.9L780.5 463.5L778.4 462.0L776.4 460.7L774.9 459.5L773.4 458.4L772.0 457.2L770.6 456.1L769.2 454.9L767.9 453.7L766.5 452.5L765.2 451.5L764.0 450.4L762.7 449.4L761.5 448.3L760.2 447.3L758.9 446.3L757.6 445.2L756.2 444.2L754.7 443.1L753.2 442.1L751.7 441.1L750.2 440.1L748.7 439.2L747.3 438.4L746.1 437.7L744.9 437.0L743.7 436.3L742.6 435.6L741.3 434.9L740.1 434.4L738.9 433.9L737.8 433.5L736.7 433.2L735.5 433.0L734.4 432.9L733.3 432.9L732.2 432.9L731.1 433.1L730.0 433.3L728.9 433.7L727.8 434.1L726.8 434.6L725.8 435.3L724.9 436.0L724.0 436.8L723.0 437.9L721.9 439.0L720.7 440.2L719.6 441.4L718.6 442.8L717.6 444.3L716.6 445.8L715.6 447.7L714.7 449.7L713.9 451.8L713.1 454.0L712.4 456.2L711.7 458.5L711.1 460.9L710.3 463.9L709.6 467.0L708.9 470.2L708.3 473.5L707.7 476.9L707.1 480.4L706.5 484.0L705.8 488.5L705.1 493.1L704.4 497.9L703.7 502.8L703.1 507.8L702.4 513.0L701.8 518.4L701.1 525.3L700.4 532.5L699.8 540.0L699.1 547.7L698.5 555.5L697.9 563.2L697.2 571.0L696.6 579.0L695.9 587.3L695.2 595.6L694.6 603.9L693.9 612.1L693.3 620.2L692.7 628.1L692.2 635.1L691.7 641.9L691.3 648.7L690.9 655.4L690.4 662.0L690.0 668.5L689.6 674.8L689.3 680.3L688.9 685.5L688.6 690.6L688.3 695.7L688.0 700.9L687.6 706.2L687.3 711.8L686.9 718.9L686.5 726.3L686.1 733.9L685.7 741.6L685.3 749.4L684.9 757.2L684.5 764.8L684.1 772.4L683.7 780.1L683.3 787.8L682.9 795.4L682.4 803.0L682.0 810.5L681.6 817.8L681.2 824.6L680.9 831.2L680.5 837.8L680.1 844.3L679.7 850.7L679.3 857.1L678.9 863.5L678.5 869.6L678.0 875.7L677.6 881.7L677.1 887.8L676.6 893.7L676.1 899.5L675.6 905.2L675.2 910.3L674.7 915.3L674.3 920.2L673.8 925.1L673.3 929.8L672.8 934.5L672.2 939.1L671.6 943.2L670.9 947.4L670.2 951.5L669.5 955.5L668.7 959.4L668.0 963.0L667.3 966.4L666.9 968.6L666.4 970.6L666.0 972.5L665.5 974.4L665.0 976.2L664.5 978.0L664.0 979.8L663.5 981.6L663.0 983.4L662.4 985.2L661.8 987.0L661.2 988.8L660.6 990.5L660.0 992.3L659.5 993.8L658.9 995.4L658.3 997.0L657.7 998.5L657.2 1000.0L656.6 1001.5L656.0 1002.9L655.4 1004.2L654.9 1005.5L654.3 1006.8L653.8 1008.0L653.2 1009.2L652.6 1010.4L652.0 1011.6L651.5 1012.6L651.0 1013.5L650.5 1014.4L650.1 1015.3L649.6 1016.2L649.0 1017.1L648.5 1017.9L647.8 1018.8L647.1 1019.7L646.3 1020.6L645.4 1021.4L644.5 1022.2L643.5 1022.9L642.5 1023.7L641.5 1024.4L640.4 1025.1L639.4 1025.8L638.3 1026.5L637.2 1027.1L636.0 1027.6L634.9 1028.1L633.7 1028.5L632.4 1028.9L631.2 1029.3L629.9 1029.6L628.5 1029.8L627.1 1030.0L625.7 1030.2L623.7 1030.4L621.7 1030.5L619.5 1030.5L617.2 1030.5L614.9 1030.4L612.5 1030.3L610.1 1030.2L607.4 1030.1L604.6 1030.0L601.7 1029.9L598.9 1029.8L596.0 1029.6L593.1 1029.4L590.3 1029.1L587.3 1028.8L584.4 1028.5L581.4 1028.1L578.4 1027.6L575.4 1027.2L572.4 1026.7L569.6 1026.3L567.0 1025.9L564.5 1025.4L562.1 1025.0L559.6 1024.6L557.2 1024.1L554.9 1023.7L552.6 1023.2L550.6 1022.8L548.8 1022.5L547.0 1022.1L545.2 1021.7L543.4 1021.3L541.4 1020.9L539.2 1020.4L535.5 1019.5L531.3 1018.6L526.8 1017.5L522.1 1016.4L517.6 1015.3L513.3 1014.3L509.5 1013.4L507.1 1012.8L504.9 1012.2L502.9 1011.7L500.9 1011.1L498.9 1010.6L496.9 1010.1L494.8 1009.5L492.6 1008.9L490.4 1008.3L488.3 1007.7L486.1 1007.1L483.9 1006.4L481.5 1005.7L479.0 1005.0L475.2 1003.9L470.9 1002.6L466.4 1001.3L461.9 999.9L457.4 998.5L453.2 997.2L449.5 996.0L447.1 995.2L444.9 994.5L442.9 993.8L440.9 993.0L438.9 992.3L436.8 991.6L434.7 990.8L432.5 990.0L430.3 989.3L428.2 988.5L426.0 987.8L423.7 987.0L421.4 986.1L418.9 985.1L415.1 983.5L410.9 981.7L406.6 979.8L402.1 977.7L397.8 975.6L393.6 973.6L389.8 971.7L387.1 970.3L384.5 969.0L382.0 967.6L379.6 966.2L377.2 964.9L374.9 963.5L372.6 962.2L370.6 961.1L368.6 960.1L366.7 959.1L364.8 958.1L363.0 957.1L361.2 956.1L359.4 955.0L357.5 953.9L355.7 952.7L354.0 951.5L352.2 950.2L350.4 948.9L348.7 947.6L346.9 946.3L345.3 945.1L343.7 943.9L342.2 942.6L340.6 941.4L339.0 940.1L337.4 938.8L335.8 937.6L334.2 936.3L332.4 935.0L330.6 933.7L328.9 932.5L327.3 931.3L325.7 930.1L324.3 928.9L323.4 927.8L322.6 926.6L321.9 925.5L321.1 924.3L320.3 923.1L319.4 921.9L318.4 920.8L317.4 919.7L316.4 918.6L315.3 917.6L314.3 916.5L313.4 915.5L312.4 914.6L311.6 913.7L311.0 913.0L310.4 912.4L309.8 911.8L309.3 911.2L308.8 910.6L308.2 910.0L307.7 909.4L307.1 908.6L306.4 907.9L305.8 907.1L305.1 906.3L304.5 905.5L303.8 904.7L303.2 903.9L302.6 903.2L302.0 902.4L301.5 901.7L300.9 900.9L300.3 900.2L299.8 899.4L299.2 898.5L298.3 897.3L297.3 895.8L296.2 894.2L295.1 892.7L294.3 891.4L293.8 890.5L294.4 891.5L289.9 893.2L290.4 894.0L291.2 895.0L292.0 896.2L292.8 897.2L293.5 898.0L298.2 895.9L297.3 895.1L296.7 894.2L295.7 893.0L294.7 891.5L293.6 889.9L292.6 888.4L291.7 887.1L291.1 885.8L290.4 884.6L289.8 883.3L289.2 882.0L288.5 880.7L287.9 879.4L287.2 878.1L286.7 876.9L286.1 875.8L285.6 874.8L285.0 873.7L284.5 872.6L283.9 871.4L283.3 870.1L282.4 867.9L281.3 865.6L280.2 863.0L279.0 860.4L277.9 857.8L276.7 855.3L275.7 852.9L274.9 851.0L274.1 849.2L273.4 847.4L272.7 845.6L272.0 843.9L271.3 842.1L270.6 840.3L270.0 838.3L269.3 836.2L268.7 834.1L268.1 832.0L267.4 829.9L266.8 827.8L266.1 825.7L265.5 823.6L264.9 821.7L264.2 819.7L263.6 817.7L263.0 815.8L262.4 813.7L261.7 811.7L261.0 809.3L260.3 806.8L259.6 804.3L258.9 801.7L258.2 799.2L257.5 796.7L256.9 794.2L256.3 792.1L255.8 790.0L255.2 788.0L254.7 785.9L254.2 783.9L253.6 781.8L253.1 779.8L252.6 777.8L252.1 775.8L251.6 773.8L251.0 771.9L250.5 769.9L250.1 767.8L249.6 765.7L249.0 762.8L248.3 759.7L247.7 756.4L247.1 753.2L246.5 749.9L246.0 746.6L245.4 743.5L245.0 740.8L244.5 738.1L244.1 735.4L243.7 732.8L243.3 730.2L243.0 727.6L242.6 725.0L242.2 722.5L241.9 720.0L241.5 717.5L241.2 715.1L240.9 712.6L240.6 710.1L240.3 707.6L239.9 705.1L239.6 702.5L239.3 700.0L239.0 697.5L238.7 694.9L238.4 692.3L238.1 689.7L237.8 686.8L237.5 684.0L237.2 681.1L236.9 678.2L236.6 675.2L236.3 672.3L236.1 669.3L235.8 666.3L235.6 663.3L235.3 660.2L235.1 657.1L234.9 654.0L234.7 650.9L234.5 647.8L234.2 644.5L234.0 641.2L233.7 637.8L233.5 634.5L233.3 631.2L233.0 627.9L232.8 624.8L232.6 622.1L232.4 619.5L232.2 617.0L232.0 614.5L231.8 612.0L231.6 609.5L231.4 606.8L231.2 603.5L230.9 600.2L230.7 596.7L230.4 593.2L230.2 589.7L230.0 586.3L229.8 582.8L229.6 579.6L229.5 576.4L229.4 573.2L229.3 569.9L229.2 566.7L229.1 563.3L228.9 559.9L228.8 555.8L228.6 551.7L228.4 547.4L228.2 543.1L228.0 538.7L227.8 534.3L227.6 529.9L227.3 525.0L227.1 520.1L226.9 515.1L226.6 510.0L226.4 504.9L226.2 499.9L226.0 494.9L225.8 489.9L225.5 484.9L225.3 479.8L225.1 474.8L224.9 469.8L224.8 464.8L224.6 459.9L224.4 455.1L224.2 450.5L224.1 445.9L223.9 441.2L223.8 436.5L223.6 431.7L223.5 426.6L223.4 420.4L223.2 413.9L223.1 407.3L223.0 400.5L222.9 393.6L222.9 386.8L222.8 380.0L222.7 372.9L222.6 365.8L222.5 358.7L222.4 351.5L222.3 344.3L222.2 337.1L222.1 330.0L222.0 322.8L221.9 315.7L221.8 308.5L221.7 301.4L221.6 294.2L221.5 287.1L221.4 280.0L221.3 272.8L221.2 265.7L221.1 258.5L221.0 251.4L220.9 244.2L220.8 237.1L220.7 230.0L220.6 222.8L220.4 215.7L220.3 208.5L220.2 201.4L220.1 194.2L220.0 187.1L219.9 180.0L219.8 172.8L219.8 165.5L219.7 158.3L219.6 151.1L219.5 143.9L219.5 136.8L219.4 130.0L219.3 123.8L219.2 117.7L219.1 111.7L219.0 105.8L218.9 100.0L218.8 94.4L218.8 89.0L218.7 84.6L218.7 80.3L218.6 76.2L218.6 72.1L218.6 68.1L218.6 64.1L218.5 60.0Z" fill="#d00000"/>
<path d="M212.2 60.0L212.2 64.1L212.2 68.2L212.3 72.2L212.3 76.2L212.3 80.4L212.4 84.6L212.4 89.0L212.5 94.5L212.5 100.1L212.6 105.9L212.7 111.8L212.8 117.8L212.9 123.9L213.0 130.0L213.1 136.9L213.1 144.0L213.2 151.1L213.3 158.3L213.3 165.6L213.4 172.8L213.5 180.0L213.6 187.2L213.7 194.3L213.8 201.5L213.9 208.6L214.0 215.8L214.1 222.9L214.2 230.0L214.3 237.2L214.4 244.3L214.5 251.5L214.6 258.6L214.7 265.8L214.8 272.9L214.9 280.0L215.0 287.2L215.1 294.3L215.2 301.5L215.3 308.6L215.4 315.8L215.5 322.9L215.6 330.0L215.7 337.2L215.8 344.4L215.9 351.6L215.9 358.7L216.0 365.9L216.1 373.0L216.2 380.0L216.3 386.9L216.4 393.7L216.5 400.6L216.6 407.4L216.7 414.0L216.8 420.5L216.9 426.8L217.0 431.8L217.2 436.7L217.3 441.4L217.4 446.1L217.6 450.7L217.7 455.3L217.9 460.1L218.1 465.1L218.2 470.0L218.4 475.0L218.6 480.1L218.8 485.1L219.0 490.1L219.2 495.1L219.4 500.1L219.6 505.2L219.8 510.3L220.1 515.3L220.3 520.3L220.5 525.3L220.7 530.1L220.9 534.6L221.1 539.0L221.3 543.4L221.5 547.7L221.7 551.9L221.8 556.1L222.0 560.1L222.1 563.5L222.2 566.9L222.3 570.1L222.4 573.4L222.5 576.6L222.7 579.8L222.8 583.1L223.0 586.6L223.2 590.1L223.4 593.6L223.6 597.1L223.9 600.6L224.1 604.0L224.3 607.2L224.5 609.9L224.7 612.5L224.9 615.0L225.1 617.5L225.2 620.0L225.4 622.5L225.6 625.2L225.8 628.3L226.0 631.6L226.3 634.9L226.5 638.2L226.7 641.6L226.9 644.9L227.1 648.2L227.3 651.3L227.5 654.4L227.7 657.5L227.9 660.6L228.2 663.7L228.4 666.8L228.6 669.8L228.9 672.8L229.1 675.8L229.4 678.7L229.6 681.6L229.9 684.6L230.2 687.4L230.4 690.3L230.7 692.9L231.0 695.5L231.2 698.1L231.5 700.7L231.8 703.2L232.1 705.8L232.3 708.3L232.6 710.8L232.9 713.3L233.2 715.8L233.4 718.3L233.7 720.7L234.0 723.2L234.3 725.8L234.7 728.4L235.0 731.0L235.4 733.6L235.7 736.3L236.1 739.0L236.5 741.7L236.9 744.4L237.3 747.5L237.8 750.8L238.2 754.1L238.7 757.4L239.2 760.7L239.8 763.9L240.3 766.8L240.7 769.1L241.2 771.2L241.6 773.2L242.1 775.2L242.5 777.2L243.0 779.2L243.5 781.2L243.9 783.2L244.4 785.3L244.9 787.3L245.4 789.4L245.9 791.5L246.4 793.6L247.0 795.7L247.6 798.2L248.3 800.7L248.9 803.2L249.6 805.8L250.3 808.3L251.0 810.8L251.6 813.2L252.2 815.3L252.7 817.4L253.2 819.3L253.8 821.3L254.3 823.3L254.9 825.3L255.4 827.3L256.0 829.4L256.6 831.5L257.1 833.6L257.7 835.8L258.4 837.9L259.0 840.0L259.7 842.1L260.4 844.0L261.1 845.9L261.8 847.7L262.5 849.5L263.2 851.3L263.9 853.1L264.7 855.0L265.7 857.4L266.7 860.0L267.8 862.6L268.9 865.2L269.9 867.8L270.9 870.1L271.9 872.3L272.5 873.6L273.1 874.9L273.6 876.0L274.1 877.1L274.7 878.2L275.2 879.3L275.8 880.5L276.4 881.8L277.0 883.1L277.7 884.4L278.3 885.7L279.0 887.0L279.7 888.3L280.3 889.6L281.0 890.9L281.6 892.1L282.3 893.3L282.9 894.5L283.6 895.7L284.3 896.9L284.9 898.1L285.5 899.1L286.1 900.2L286.7 901.2L287.3 902.2L287.9 903.2L288.6 904.3L289.2 905.3L290.0 906.6L290.9 907.9L291.7 909.2L292.6 910.5L293.5 911.8L294.4 913.0L295.2 914.2L295.8 915.1L296.5 915.9L297.1 916.7L297.7 917.5L298.3 918.3L298.9 919.1L299.6 919.9L300.2 920.7L300.9 921.5L301.6 922.2L302.3 923.0L303.0 923.8L303.7 924.6L304.3 925.3L304.9 925.9L305.5 926.5L306.1 927.1L306.6 927.7L307.2 928.3L307.8 928.9L308.4 929.6L309.3 930.5L310.2 931.5L311.2 932.4L312.1 933.5L313.1 934.5L314.0 935.5L314.8 936.6L315.6 937.7L316.4 938.8L317.2 939.9L318.1 941.1L319.0 942.2L320.1 943.4L321.3 944.6L322.7 946.0L324.3 947.4L326.0 948.7L327.8 950.0L329.6 951.2L331.3 952.4L333.0 953.6L334.6 954.7L336.1 955.9L337.7 957.1L339.3 958.3L340.8 959.5L342.4 960.7L344.1 961.9L345.8 963.2L347.6 964.5L349.3 965.8L351.1 967.2L352.9 968.5L354.8 969.7L356.7 971.0L358.5 972.1L360.4 973.2L362.3 974.2L364.2 975.2L366.1 976.2L368.1 977.2L370.0 978.2L372.3 979.5L374.7 980.8L377.0 982.1L379.4 983.5L382.0 985.0L384.6 986.4L387.4 987.9L391.2 989.8L395.4 991.9L399.8 994.0L404.3 996.1L408.7 998.1L412.9 999.9L416.7 1001.6L419.3 1002.6L421.7 1003.5L424.0 1004.4L426.3 1005.2L428.5 1006.0L430.7 1006.7L432.9 1007.5L435.0 1008.2L437.0 1008.9L439.0 1009.6L441.0 1010.3L443.1 1011.0L445.4 1011.7L447.8 1012.4L451.6 1013.5L455.8 1014.7L460.3 1015.8L464.9 1017.0L469.4 1018.2L473.6 1019.2L477.5 1020.2L480.0 1020.8L482.4 1021.4L484.7 1022.0L486.8 1022.5L489.0 1023.0L491.1 1023.5L493.3 1024.1L495.4 1024.5L497.5 1025.0L499.5 1025.4L501.5 1025.9L503.6 1026.3L505.8 1026.8L508.2 1027.3L512.0 1028.2L516.3 1029.1L520.8 1030.1L525.5 1031.1L530.0 1032.1L534.2 1033.1L538.0 1033.9L540.2 1034.3L542.2 1034.7L544.0 1035.1L545.8 1035.5L547.6 1035.9L549.5 1036.2L551.5 1036.6L553.8 1037.0L556.2 1037.5L558.6 1037.9L561.0 1038.3L563.6 1038.7L566.1 1039.1L568.7 1039.5L571.6 1040.0L574.6 1040.4L577.7 1040.8L580.8 1041.2L583.8 1041.6L586.8 1041.9L589.7 1042.3L592.0 1042.5L594.3 1042.7L596.5 1043.0L598.7 1043.2L600.8 1043.3L603.0 1043.5L605.1 1043.6L607.0 1043.6L609.0 1043.6L610.9 1043.6L612.8 1043.6L614.7 1043.5L616.6 1043.4L618.3 1043.2L619.8 1043.0L621.3 1042.7L622.7 1042.4L624.0 1042.1L625.4 1041.7L626.7 1041.2L628.0 1040.7L629.2 1040.1L630.4 1039.5L631.5 1038.8L632.6 1038.1L633.6 1037.4L634.6 1036.6L635.5 1035.8L636.2 1035.1L636.8 1034.3L637.5 1033.7L638.1 1033.1L638.7 1032.4L639.2 1031.8L639.8 1031.1L640.6 1030.2L641.3 1029.3L642.1 1028.3L642.8 1027.3L643.6 1026.3L644.3 1025.2L645.1 1024.2L645.8 1023.1L646.6 1021.9L647.4 1020.7L648.1 1019.6L648.8 1018.3L649.6 1017.1L650.2 1015.9L650.8 1014.7L651.4 1013.4L651.9 1012.2L652.4 1011.0L652.8 1009.8L653.2 1008.6L653.6 1007.5L654.0 1006.5L654.3 1005.6L654.7 1004.7L655.0 1003.8L655.3 1002.9L655.7 1001.9L656.0 1000.9L656.5 999.4L657.0 997.9L657.4 996.3L657.9 994.7L658.4 993.0L658.8 991.4L659.3 989.8L659.7 988.1L660.2 986.5L660.7 984.8L661.1 983.1L661.6 981.5L662.0 979.8L662.4 978.2L662.8 976.8L663.1 975.4L663.4 974.1L663.6 972.8L663.9 971.5L664.2 970.1L664.5 968.6L664.9 966.3L665.4 964.0L665.9 961.5L666.4 958.9L666.9 956.2L667.3 953.3L667.8 950.4L668.3 946.1L668.7 941.6L669.1 936.8L669.5 931.9L669.8 927.0L670.2 922.1L670.6 917.3L671.0 912.5L671.5 907.9L671.9 903.2L672.4 898.5L672.8 893.7L673.3 888.7L673.7 883.4L674.2 876.4L674.6 869.1L675.0 861.5L675.4 853.8L675.7 845.9L676.1 838.0L676.5 830.2L676.9 822.0L677.3 813.8L677.8 805.6L678.2 797.3L678.6 788.9L679.1 780.4L679.5 771.7L680.0 761.8L680.4 751.6L680.9 741.1L681.3 730.6L681.8 720.2L682.2 710.0L682.7 700.1L683.1 691.7L683.5 683.5L683.9 675.5L684.3 667.5L684.8 659.6L685.2 651.8L685.6 644.0L686.0 636.4L686.4 628.9L686.8 621.4L687.2 614.0L687.6 606.6L688.0 599.4L688.4 592.2L688.8 585.5L689.1 578.9L689.5 572.4L689.9 565.9L690.3 559.6L690.8 553.4L691.3 547.5L691.8 542.4L692.2 537.5L692.8 532.7L693.3 528.0L693.9 523.4L694.5 518.9L695.1 514.5L695.7 511.1L696.3 507.8L696.9 504.6L697.5 501.4L698.1 498.1L698.8 494.8L699.4 491.3L700.1 486.9L700.9 482.2L701.6 477.4L702.3 472.6L703.1 468.0L703.8 463.6L704.7 459.6L705.3 456.9L705.9 454.3L706.6 451.9L707.3 449.5L708.0 447.3L708.7 445.2L709.4 443.2L709.9 441.9L710.5 440.6L711.0 439.3L711.5 438.2L712.1 437.1L712.6 436.1L713.2 435.2L713.5 434.6L713.8 434.1L714.3 433.6L714.8 433.3L715.3 433.0L715.9 432.7L716.4 432.4L716.9 432.1L717.3 431.9L717.8 431.8L718.2 431.6L718.7 431.5L719.0 431.5L719.4 431.4L719.9 431.4L720.4 431.4L720.9 431.4L721.5 431.4L722.0 431.4L722.6 431.5L723.2 431.6L724.0 431.8L724.9 432.0L725.9 432.4L726.8 432.9L727.9 433.4L728.9 434.0L730.0 434.6L731.5 435.6L733.1 436.8L734.7 438.1L736.3 439.5L738.0 441.0L739.7 442.6L741.5 444.1L743.7 445.9L746.0 447.8L748.4 449.8L750.8 451.8L753.1 453.7L755.4 455.5L757.5 457.1L758.9 458.1L760.2 459.0L761.4 459.8L762.6 460.6L763.8 461.3L765.1 462.0L766.3 462.8L767.7 463.7L769.2 464.7L770.6 465.6L772.0 466.6L773.6 467.6L775.2 468.7L776.9 469.7L779.3 471.2L781.9 472.7L784.6 474.2L787.4 475.7L790.4 477.3L793.4 478.9L796.5 480.4L800.5 482.3L804.7 484.3L809.1 486.3L813.5 488.2L818.0 490.1L822.4 492.0L826.7 493.9L830.7 495.6L834.6 497.2L838.5 498.9L842.4 500.5L846.4 502.1L850.3 503.7L854.4 505.3L858.8 506.9L863.3 508.5L867.9 510.1L872.5 511.6L877.1 513.2L881.6 514.6L886.2 516.1L890.5 517.4L894.8 518.7L899.1 520.0L903.4 521.2L907.8 522.4L912.1 523.6L916.5 524.8L920.9 526.0L925.5 527.2L930.0 528.3L934.6 529.5L939.1 530.6L943.7 531.7L948.1 532.7L952.4 533.7L956.6 534.7L960.9 535.6L965.1 536.4L969.2 537.3L973.4 538.1L977.6 538.9L981.8 539.7L985.9 540.5L990.1 541.3L994.2 542.0L998.4 542.7L1002.7 543.5L1007.0 544.2L1011.9 545.1L1016.9 545.9L1022.1 546.8L1027.2 547.7L1032.5 548.5L1037.7 549.3L1042.9 550.0L1048.2 550.7L1053.5 551.4L1058.9 552.0L1064.2 552.6L1069.6 553.2L1074.9 553.7L1080.2 554.3L1085.4 554.8L1090.5 555.3L1095.7 555.8L1100.8 556.2L1105.9 556.7L1111.0 557.1L1116.0 557.6L1120.9 558.0L1125.7 558.4L1130.5 558.8L1135.2 559.1L1140.0 559.5L1144.9 559.9L1149.8 560.2L1155.2 560.5L1160.6 560.8L1166.1 561.1L1171.6 561.3L1177.1 561.6L1182.6 561.9L1188.0 562.2L1193.3 562.5L1198.5 562.9L1203.7 563.2L1208.9 563.6L1214.1 564.0L1219.3 564.4L1224.5 564.8L1229.5 565.2L1234.6 565.5L1239.6 565.9L1244.6 566.3L1249.6 566.7L1254.6 567.1L1259.7 567.5L1264.9 567.9L1270.1 568.3L1275.3 568.7L1280.6 569.1L1285.8 569.5L1291.1 570.0L1296.4 570.4L1301.6 570.8L1306.9 571.2L1312.2 571.6L1317.5 572.0L1322.8 572.5L1328.0 572.9L1333.3 573.3L1338.3 573.7L1343.4 574.1L1348.5 574.5L1353.5 574.9L1358.5 575.2L1363.4 575.6L1368.3 576.0L1372.8 576.3L1377.3 576.6L1381.7 577.0L1386.1 577.3L1390.4 577.6L1394.6 577.9L1398.6 578.2L1401.8 578.4L1404.9 578.7L1407.9 578.9L1410.9 579.1L1413.8 579.3L1416.8 579.6L1419.8 579.8L1420.2 573.8L1417.2 573.6L1414.3 573.4L1411.3 573.1L1408.4 572.9L1405.4 572.7L1402.2 572.5L1399.0 572.2L1395.0 571.9L1390.8 571.6L1386.5 571.3L1382.1 571.0L1377.7 570.7L1373.2 570.3L1368.7 570.0L1363.9 569.7L1358.9 569.3L1354.0 568.9L1348.9 568.5L1343.9 568.1L1338.8 567.7L1333.7 567.3L1328.5 566.9L1323.3 566.5L1318.0 566.1L1312.7 565.7L1307.4 565.3L1302.1 564.8L1296.8 564.4L1291.6 564.0L1286.3 563.6L1281.1 563.2L1275.8 562.8L1270.6 562.3L1265.3 561.9L1260.1 561.5L1255.1 561.1L1250.0 560.7L1245.0 560.3L1240.0 560.0L1235.0 559.6L1230.0 559.2L1224.9 558.8L1219.8 558.4L1214.6 558.0L1209.4 557.7L1204.1 557.3L1198.9 556.9L1193.7 556.5L1188.4 556.2L1182.9 555.9L1177.4 555.6L1171.9 555.3L1166.4 555.1L1160.9 554.8L1155.5 554.5L1150.2 554.2L1145.3 553.9L1140.5 553.5L1135.7 553.2L1130.9 552.8L1126.2 552.4L1121.4 552.0L1116.6 551.6L1111.5 551.2L1106.4 550.7L1101.3 550.3L1096.2 549.8L1091.1 549.3L1085.9 548.8L1080.8 548.3L1075.5 547.8L1070.2 547.2L1064.9 546.7L1059.6 546.1L1054.2 545.5L1049.0 544.8L1043.7 544.2L1038.5 543.4L1033.4 542.6L1028.2 541.8L1023.0 541.0L1017.9 540.1L1012.9 539.2L1008.0 538.4L1003.7 537.6L999.4 536.9L995.2 536.2L991.1 535.5L987.0 534.7L982.9 534.0L978.8 533.2L974.6 532.3L970.4 531.5L966.2 530.7L962.1 529.8L957.9 528.9L953.7 528.0L949.5 527.0L945.0 526.0L940.5 524.9L936.0 523.8L931.5 522.7L926.9 521.5L922.4 520.4L917.9 519.2L913.6 518.0L909.3 516.8L905.0 515.6L900.7 514.4L896.5 513.2L892.2 511.9L887.8 510.6L883.4 509.2L878.8 507.7L874.3 506.2L869.7 504.7L865.2 503.2L860.7 501.6L856.4 500.0L852.4 498.5L848.4 496.9L844.5 495.4L840.6 493.8L836.8 492.1L832.9 490.5L828.9 488.8L824.6 487.0L820.2 485.1L815.7 483.2L811.3 481.2L807.0 479.3L802.8 477.4L798.9 475.6L795.8 474.1L792.8 472.6L789.9 471.0L787.1 469.6L784.5 468.1L781.9 466.7L779.5 465.3L777.8 464.3L776.3 463.3L774.8 462.4L773.3 461.4L771.9 460.5L770.5 459.5L769.1 458.6L767.8 457.7L766.5 457.0L765.3 456.2L764.1 455.5L762.9 454.8L761.7 454.0L760.3 453.1L758.3 451.7L756.0 450.0L753.7 448.1L751.3 446.2L748.9 444.2L746.6 442.4L744.5 440.6L742.7 439.1L741.0 437.6L739.3 436.1L737.6 434.6L736.0 433.2L734.4 431.8L732.8 430.6L731.7 429.8L730.5 429.0L729.4 428.3L728.2 427.6L727.1 427.0L726.0 426.5L724.8 426.0L723.9 425.8L722.9 425.6L722.0 425.4L721.0 425.4L720.1 425.4L719.2 425.5L718.4 425.6L717.6 425.9L716.8 426.2L716.1 426.5L715.4 426.9L714.8 427.4L714.2 427.8L713.6 428.2L713.0 428.7L712.4 429.3L711.8 429.9L711.3 430.5L710.6 431.1L709.9 431.7L709.2 432.4L708.4 433.4L707.6 434.5L706.9 435.7L706.2 436.9L705.5 438.3L704.8 439.7L704.2 441.2L703.4 443.3L702.6 445.5L701.8 447.8L701.0 450.3L700.3 452.9L699.6 455.6L698.9 458.4L698.1 462.5L697.2 467.0L696.5 471.7L695.7 476.5L695.0 481.3L694.3 486.0L693.6 490.3L693.0 493.8L692.3 497.1L691.7 500.3L691.1 503.5L690.4 506.7L689.8 510.1L689.3 513.7L688.6 518.1L688.0 522.6L687.4 527.2L686.9 532.0L686.3 536.9L685.8 541.9L685.3 546.9L684.8 553.0L684.4 559.2L683.9 565.6L683.5 572.0L683.2 578.6L682.8 585.2L682.4 591.8L682.0 599.0L681.6 606.3L681.2 613.7L680.8 621.1L680.4 628.6L680.0 636.1L679.6 643.6L679.2 651.5L678.8 659.3L678.4 667.2L677.9 675.2L677.5 683.2L677.1 691.4L676.7 699.9L676.2 709.7L675.8 719.9L675.3 730.3L674.9 740.8L674.4 751.3L674.0 761.5L673.5 771.5L673.1 780.1L672.7 788.6L672.2 797.0L671.8 805.3L671.4 813.5L670.9 821.7L670.5 829.8L670.1 837.7L669.7 845.6L669.4 853.5L669.0 861.2L668.6 868.8L668.2 876.1L667.7 883.0L667.3 888.2L666.9 893.2L666.4 898.0L666.0 902.7L665.5 907.3L665.1 912.0L664.6 916.7L664.2 921.6L663.8 926.5L663.5 931.5L663.1 936.3L662.7 941.0L662.3 945.5L661.8 949.6L661.4 952.5L661.0 955.2L660.6 957.9L660.1 960.4L659.6 962.9L659.1 965.2L658.7 967.4L658.4 968.9L658.1 970.3L657.9 971.6L657.6 972.9L657.4 974.2L657.1 975.5L656.8 976.8L656.4 978.4L656.0 980.0L655.5 981.6L655.1 983.3L654.6 984.9L654.2 986.6L653.7 988.2L653.3 989.8L652.8 991.5L652.4 993.1L651.9 994.7L651.4 996.3L651.0 997.7L650.6 999.1L650.3 1000.1L650.0 1001.1L649.7 1001.9L649.4 1002.8L649.0 1003.7L648.7 1004.6L648.4 1005.5L647.9 1006.7L647.5 1007.8L647.1 1009.0L646.7 1010.1L646.3 1011.3L645.8 1012.4L645.4 1013.5L644.8 1014.7L644.3 1015.8L643.6 1016.9L643.0 1018.1L642.3 1019.2L641.6 1020.3L640.9 1021.4L640.3 1022.4L639.6 1023.4L638.9 1024.4L638.2 1025.4L637.5 1026.4L636.8 1027.3L636.2 1028.1L635.6 1028.8L635.1 1029.5L634.7 1030.1L634.2 1030.7L633.8 1031.3L633.2 1031.8L632.5 1032.2L631.7 1032.7L630.8 1033.3L629.9 1033.8L628.9 1034.3L628.0 1034.7L627.0 1035.2L626.0 1035.5L624.9 1035.9L623.8 1036.2L622.6 1036.5L621.5 1036.7L620.2 1036.9L619.0 1037.1L617.7 1037.3L616.1 1037.4L614.4 1037.5L612.6 1037.6L610.9 1037.6L609.0 1037.6L607.2 1037.6L605.3 1037.6L603.3 1037.5L601.2 1037.4L599.1 1037.2L597.0 1037.0L594.8 1036.8L592.6 1036.6L590.3 1036.3L587.5 1036.0L584.6 1035.7L581.5 1035.3L578.5 1034.9L575.4 1034.5L572.4 1034.1L569.5 1033.7L567.0 1033.3L564.5 1032.9L562.0 1032.5L559.6 1032.1L557.2 1031.6L554.8 1031.2L552.5 1030.8L550.6 1030.4L548.8 1030.1L547.0 1029.7L545.2 1029.4L543.4 1029.0L541.4 1028.6L539.2 1028.1L535.5 1027.3L531.3 1026.4L526.7 1025.4L522.1 1024.4L517.5 1023.4L513.2 1022.4L509.4 1021.6L507.0 1021.1L504.8 1020.6L502.7 1020.1L500.7 1019.7L498.7 1019.3L496.7 1018.8L494.7 1018.3L492.5 1017.8L490.3 1017.3L488.2 1016.8L486.0 1016.3L483.8 1015.8L481.4 1015.2L478.9 1014.6L475.1 1013.6L470.8 1012.5L466.3 1011.4L461.8 1010.2L457.3 1009.1L453.1 1007.9L449.4 1006.9L447.0 1006.2L444.9 1005.5L442.8 1004.8L440.8 1004.2L438.8 1003.5L436.8 1002.8L434.7 1002.1L432.5 1001.4L430.3 1000.6L428.2 999.9L426.0 999.1L423.7 998.3L421.4 997.4L418.9 996.4L415.1 994.9L410.9 993.1L406.6 991.1L402.1 989.1L397.8 987.0L393.6 985.0L389.8 983.1L387.1 981.7L384.5 980.3L382.0 979.0L379.6 977.6L377.2 976.2L374.9 974.9L372.6 973.6L370.5 972.5L368.6 971.5L366.7 970.5L364.8 969.6L363.0 968.6L361.1 967.6L359.3 966.6L357.5 965.5L355.7 964.4L353.9 963.1L352.2 961.9L350.4 960.6L348.7 959.3L346.9 958.1L345.3 956.9L343.7 955.7L342.1 954.5L340.6 953.3L339.0 952.1L337.4 950.9L335.8 949.6L334.1 948.4L332.4 947.2L330.6 946.0L328.9 944.8L327.2 943.7L325.7 942.5L324.3 941.4L323.4 940.4L322.6 939.3L321.8 938.2L321.1 937.0L320.2 935.9L319.3 934.7L318.4 933.6L317.4 932.6L316.3 931.5L315.3 930.5L314.3 929.4L313.3 928.5L312.4 927.5L311.6 926.6L311.0 925.9L310.4 925.3L309.8 924.7L309.3 924.1L308.8 923.5L308.2 922.9L307.7 922.3L307.0 921.6L306.4 920.8L305.7 920.1L305.1 919.3L304.5 918.5L303.8 917.7L303.2 916.9L302.6 916.2L302.1 915.4L301.5 914.6L300.9 913.9L300.4 913.1L299.8 912.3L299.2 911.4L298.4 910.2L297.6 909.0L296.8 907.8L295.9 906.5L295.1 905.2L294.3 903.9L293.6 902.7L292.9 901.6L292.3 900.6L291.8 899.6L291.2 898.6L290.6 897.6L290.1 896.6L289.5 895.5L288.9 894.4L288.2 893.2L287.6 892.0L287.0 890.8L286.3 889.6L285.7 888.4L285.1 887.2L284.4 885.9L283.8 884.6L283.1 883.3L282.5 882.0L281.9 880.7L281.2 879.4L280.6 878.1L280.1 877.0L279.6 875.9L279.0 874.8L278.5 873.7L278.0 872.6L277.5 871.4L276.9 870.1L276.0 868.0L275.0 865.6L274.0 863.1L272.9 860.5L271.9 857.9L270.8 855.3L269.9 853.0L269.1 851.1L268.4 849.2L267.7 847.4L267.0 845.7L266.3 843.9L265.7 842.1L265.1 840.3L264.5 838.3L263.9 836.3L263.3 834.2L262.7 832.1L262.1 829.9L261.6 827.8L261.0 825.7L260.4 823.7L259.9 821.8L259.4 819.8L258.8 817.8L258.3 815.9L257.8 813.8L257.2 811.8L256.6 809.3L255.9 806.9L255.2 804.3L254.5 801.8L253.9 799.2L253.2 796.7L252.6 794.3L252.1 792.2L251.6 790.1L251.1 788.0L250.6 786.0L250.1 783.9L249.6 781.9L249.1 779.8L248.7 777.8L248.2 775.9L247.8 773.9L247.4 772.0L246.9 770.0L246.5 767.9L246.1 765.8L245.6 762.9L245.1 759.8L244.6 756.5L244.1 753.3L243.6 749.9L243.2 746.7L242.7 743.6L242.4 740.8L242.0 738.1L241.6 735.5L241.3 732.9L240.9 730.2L240.6 727.6L240.3 725.0L239.9 722.5L239.7 720.0L239.4 717.6L239.1 715.1L238.8 712.6L238.5 710.2L238.3 707.7L238.0 705.1L237.7 702.6L237.4 700.1L237.2 697.5L236.9 694.9L236.6 692.3L236.4 689.7L236.1 686.9L235.8 684.0L235.6 681.1L235.3 678.2L235.1 675.3L234.8 672.3L234.6 669.4L234.3 666.3L234.1 663.3L233.9 660.2L233.7 657.1L233.5 654.0L233.3 650.9L233.1 647.8L232.9 644.5L232.7 641.2L232.4 637.9L232.2 634.5L232.0 631.2L231.8 627.9L231.6 624.8L231.4 622.1L231.2 619.6L231.0 617.0L230.8 614.6L230.7 612.1L230.5 609.5L230.3 606.8L230.1 603.5L229.8 600.2L229.6 596.7L229.4 593.2L229.2 589.7L229.0 586.3L228.8 582.9L228.6 579.6L228.5 576.4L228.4 573.2L228.3 569.9L228.2 566.7L228.1 563.3L228.0 559.9L227.8 555.8L227.7 551.7L227.5 547.4L227.3 543.1L227.1 538.7L226.9 534.3L226.7 529.9L226.5 525.0L226.3 520.1L226.0 515.1L225.8 510.0L225.6 505.0L225.4 499.9L225.2 494.9L225.0 489.9L224.8 484.9L224.6 479.8L224.4 474.8L224.2 469.8L224.1 464.8L223.9 459.9L223.7 455.1L223.6 450.5L223.4 445.9L223.3 441.2L223.1 436.5L223.0 431.7L222.9 426.6L222.8 420.4L222.7 413.9L222.6 407.3L222.5 400.5L222.4 393.6L222.3 386.8L222.2 380.0L222.1 372.9L222.0 365.8L221.9 358.7L221.9 351.5L221.8 344.3L221.7 337.1L221.6 330.0L221.5 322.8L221.4 315.7L221.3 308.5L221.2 301.4L221.1 294.2L221.0 287.1L220.9 280.0L220.8 272.8L220.7 265.7L220.6 258.5L220.5 251.4L220.4 244.2L220.3 237.1L220.2 230.0L220.1 222.8L220.0 215.7L219.9 208.5L219.8 201.4L219.7 194.2L219.6 187.1L219.5 180.0L219.4 172.8L219.3 165.5L219.3 158.3L219.2 151.1L219.1 143.9L219.1 136.8L219.0 130.0L218.9 123.8L218.8 117.7L218.7 111.7L218.6 105.8L218.5 100.0L218.5 94.4L218.4 89.0L218.4 84.6L218.3 80.3L218.3 76.2L218.3 72.1L218.2 68.1L218.2 64.1L218.2 60.0Z" fill="#000"/>
<g fill="none" stroke="#000" stroke-width="3.9">
<rect x="212.1" y="419.1" width="15.1" height="15.1"/>
<rect x="217.8" y="575.5" width="15.1" height="15.1"/>
<rect x="224.0" y="662.1" width="15.1" height="15.1"/>
<rect x="229.8" y="717.9" width="15.1" height="15.1"/>
<rect x="235.8" y="758.8" width="15.1" height="15.1"/>
<rect x="243.0" y="788.6" width="15.1" height="15.1"/>
<rect x="254.8" y="833.7" width="15.1" height="15.1"/>
<rect x="266.9" y="863.2" width="15.1" height="15.1"/>
<rect x="284.6" y="896.8" width="15.1" height="15.1"/>
<rect x="302.2" y="920.0" width="15.1" height="15.1"/>
<rect x="326.8" y="943.8" width="15.1" height="15.1"/>
<rect x="350.1" y="961.4" width="15.1" height="15.1"/>
<rect x="381.1" y="977.1" width="15.1" height="15.1"/>
<rect x="410.2" y="990.5" width="15.1" height="15.1"/>
<rect x="441.1" y="1000.8" width="15.1" height="15.1"/>
<rect x="470.6" y="1009.9" width="15.1" height="15.1"/>
<rect x="501.2" y="1019.5" width="15.1" height="15.1"/>
<rect x="531.1" y="1025.0" width="15.1" height="15.1"/>
<rect x="561.6" y="1030.9" width="15.1" height="15.1"/>
<rect x="597.7" y="1034.8" width="15.1" height="15.1"/>
<rect x="628.2" y="1028.5" width="15.1" height="15.1"/>
<rect x="645.9" y="993.9" width="15.1" height="15.1"/>
<rect x="657.2" y="941.7" width="15.1" height="15.1"/>
<rect x="663.2" y="875.7" width="15.1" height="15.1"/>
<rect x="669.0" y="764.1" width="15.1" height="15.1"/>
<rect x="675.1" y="636.2" width="15.1" height="15.1"/>
<rect x="680.8" y="539.7" width="15.1" height="15.1"/>
<rect x="689.5" y="483.2" width="15.1" height="15.1"/>
<rect x="694.2" y="451.4" width="15.1" height="15.1"/>
<rect x="705.9" y="424.9" width="15.1" height="15.1"/>
<rect x="735.5" y="433.6" width="15.1" height="15.1"/>
<rect x="760.2" y="451.4" width="15.1" height="15.1"/>
<rect x="790.2" y="467.4" width="15.1" height="15.1"/>
<rect x="820.2" y="483.6" width="15.1" height="15.1"/>
<rect x="850.5" y="496.8" width="15.1" height="15.1"/>
<rect x="879.5" y="505.7" width="15.1" height="15.1"/>
<rect x="909.7" y="514.5" width="15.1" height="15.1"/>
<rect x="941.2" y="522.8" width="15.1" height="15.1"/>
<rect x="970.7" y="529.0" width="15.1" height="15.1"/>
<rect x="1000.0" y="534.8" width="15.1" height="15.1"/>
<rect x="1035.8" y="540.8" width="15.1" height="15.1"/>
<rect x="1073.0" y="545.1" width="15.1" height="15.1"/>
<rect x="1108.8" y="548.6" width="15.1" height="15.1"/>
<rect x="1145.0" y="551.2" width="15.1" height="15.1"/>
<rect x="1180.7" y="552.7" width="15.1" height="15.1"/>
<rect x="1217.2" y="555.6" width="15.1" height="15.1"/>
<rect x="1252.4" y="558.4" width="15.1" height="15.1"/>
<rect x="1289.0" y="561.5" width="15.1" height="15.1"/>
<rect x="1326.0" y="564.4" width="15.1" height="15.1"/>
<rect x="1361.0" y="567.2" width="15.1" height="15.1"/>
</g>
<g clip-path="url(#dash)"><path d="M212.2 60.0L212.2 64.1L212.2 68.2L212.3 72.2L212.3 76.2L212.3 80.4L212.4 84.6L212.4 89.0L212.5 94.5L212.5 100.1L212.6 105.9L212.7 111.8L212.8 117.8L212.9 123.9L213.0 130.0L213.1 136.9L213.1 144.0L213.2 151.1L213.3 158.3L213.3 165.6L213.4 172.8L213.5 180.0L213.6 187.2L213.7 194.3L213.8 201.5L213.9 208.6L214.0 215.8L214.1 222.9L214.2 230.0L214.3 237.2L214.4 244.3L214.5 251.5L214.6 258.6L214.7 265.8L214.8 272.9L214.9 280.0L215.0 287.2L215.1 294.3L215.2 301.5L215.3 308.6L215.4 315.8L215.5 322.9L215.6 330.0L215.7 337.2L215.8 344.4L215.9 351.6L215.9 358.7L216.0 365.9L216.1 373.0L216.2 380.0L216.3 386.9L216.4 393.7L216.5 400.6L216.6 407.4L216.7 414.0L216.8 420.5L216.9 426.8L217.0 431.8L217.2 436.7L217.3 441.4L217.4 446.1L217.6 450.7L217.7 455.3L217.9 460.1L218.1 465.1L218.2 470.0L218.4 475.0L218.6 480.1L218.8 485.1L219.0 490.1L219.2 495.1L219.4 500.1L219.6 505.2L219.8 510.3L220.1 515.3L220.3 520.3L220.5 525.3L220.7 530.1L220.9 534.6L221.1 539.0L221.3 543.4L221.5 547.7L221.7 551.9L221.8 556.1L222.0 560.1L222.1 563.5L222.2 566.9L222.3 570.1L222.4 573.4L222.5 576.6L222.7 579.8L222.8 583.1L223.0 586.6L223.2 590.1L223.4 593.6L223.6 597.1L223.9 600.6L224.1 604.0L224.3 607.2L224.5 609.9L224.7 612.5L224.9 615.0L225.1 617.5L225.2 620.0L225.4 622.5L225.6 625.2L225.8 628.3L226.0 631.6L226.3 634.9L226.5 638.2L226.7 641.6L226.9 644.9L227.1 648.2L227.3 651.3L227.5 654.4L227.7 657.5L227.9 660.6L228.2 663.7L228.4 666.8L228.6 669.8L228.9 672.8L229.1 675.8L229.4 678.7L229.6 681.6L229.9 684.6L230.2 687.4L230.4 690.3L230.7 692.9L231.0 695.5L231.2 698.1L231.5 700.7L231.8 703.2L232.1 705.8L232.3 708.3L232.6 710.8L232.9 713.3L233.2 715.8L233.4 718.3L233.7 720.7L234.0 723.2L234.3 725.8L234.7 728.4L235.0 731.0L235.4 733.6L235.7 736.3L236.1 739.0L236.5 741.7L236.9 744.4L237.3 747.5L237.8 750.8L238.2 754.1L238.7 757.4L239.2 760.7L239.8 763.9L240.3 766.8L240.7 769.1L241.2 771.2L241.6 773.2L242.1 775.2L242.5 777.2L243.0 779.2L243.5 781.2L243.9 783.2L244.4 785.3L244.9 787.3L245.4 789.4L245.9 791.5L246.4 793.6L247.0 795.7L247.6 798.2L248.3 800.7L248.9 803.2L249.6 805.8L250.3 808.3L251.0 810.8L251.6 813.2L252.2 815.3L252.7 817.4L253.2 819.3L253.8 821.3L254.3 823.3L254.9 825.3L255.4 827.3L256.0 829.4L256.6 831.5L257.1 833.6L257.7 835.8L258.4 837.9L259.0 840.0L259.7 842.1L260.4 844.0L261.1 845.9L261.8 847.7L262.5 849.5L263.2 851.3L263.9 853.1L264.7 855.0L265.7 857.4L266.7 860.0L267.8 862.6L268.9 865.2L269.9 867.8L270.9 870.1L271.9 872.3L272.5 873.6L273.1 874.9L273.6 876.0L274.1 877.1L274.7 878.2L275.2 879.3L275.8 880.5L276.4 881.8L277.0 883.1L277.7 884.4L278.3 885.7L279.0 887.0L279.7 888.3L280.3 889.6L281.0 890.9L281.6 892.1L282.3 893.3L282.9 894.5L283.6 895.7L284.3 896.9L284.9 898.1L285.5 899.1L286.1 900.2L286.7 901.2L287.3 902.2L287.9 903.2L288.6 904.3L289.2 905.3L290.0 906.6L290.9 907.9L291.7 909.2L292.6 910.5L293.5 911.8L294.4 913.0L295.2 914.2L295.8 915.1L296.5 915.9L297.1 916.7L297.7 917.5L298.3 918.3L298.9 919.1L299.6 919.9L300.2 920.7L300.9 921.5L301.6 922.2L302.3 923.0L303.0 923.8L303.7 924.6L304.3 925.3L304.9 925.9L305.5 926.5L306.1 927.1L306.6 927.7L307.2 928.3L307.8 928.9L308.4 929.6L309.3 930.5L310.2 931.5L311.2 932.4L312.1 933.5L313.1 934.5L314.0 935.5L314.8 936.6L315.6 937.7L316.4 938.8L317.2 939.9L318.1 941.1L319.0 942.2L320.1 943.4L321.3 944.6L322.7 946.0L324.3 947.4L326.0 948.7L327.8 950.0L329.6 951.2L331.3 952.4L333.0 953.6L334.6 954.7L336.1 955.9L337.7 957.1L339.3 958.3L340.8 959.5L342.4 960.7L344.1 961.9L345.8 963.2L347.6 964.5L349.3 965.8L351.1 967.2L352.9 968.5L354.8 969.7L356.7 971.0L358.5 972.1L360.4 973.2L362.3 974.2L364.2 975.2L366.1 976.2L368.1 977.2L370.0 978.2L372.3 979.5L374.7 980.8L377.0 982.1L379.4 983.5L382.0 985.0L384.6 986.4L387.4 987.9L391.2 989.8L395.4 991.9L399.8 994.0L404.3 996.1L408.7 998.1L412.9 999.9L416.7 1001.6L419.3 1002.6L421.7 1003.5L424.0 1004.4L426.3 1005.2L428.5 1005.9L430.6 1006.7L432.9 1007.5L434.9 1008.2L437.0 1008.9L439.0 1009.7L441.0 1010.4L443.1 1011.1L445.3 1011.9L447.7 1012.7L451.5 1013.9L455.7 1015.3L460.2 1016.6L464.8 1018.0L469.3 1019.4L473.5 1020.6L477.4 1021.8L479.9 1022.5L482.3 1023.2L484.5 1023.8L486.7 1024.5L488.9 1025.1L491.0 1025.7L493.2 1026.3L495.3 1026.9L497.4 1027.4L499.4 1028.0L501.4 1028.5L503.5 1029.1L505.7 1029.6L508.1 1030.2L512.0 1031.1L516.2 1032.1L520.8 1033.2L525.5 1034.2L530.0 1035.2L534.3 1036.1L538.0 1036.9L540.2 1037.3L542.2 1037.8L544.0 1038.1L545.8 1038.5L547.6 1038.9L549.5 1039.2L551.5 1039.6L553.8 1040.0L556.2 1040.5L558.6 1040.9L561.0 1041.3L563.6 1041.7L566.1 1042.1L568.7 1042.5L571.6 1043.0L574.6 1043.4L577.7 1043.8L580.8 1044.2L583.9 1044.6L586.8 1045.0L589.7 1045.3L592.0 1045.5L594.3 1045.7L596.5 1045.9L598.7 1046.0L600.9 1046.1L603.1 1046.2L605.2 1046.2L607.2 1046.1L609.2 1046.1L611.1 1045.9L613.1 1045.8L615.0 1045.5L616.8 1045.2L618.6 1044.9L620.1 1044.5L621.5 1044.1L622.9 1043.7L624.3 1043.2L625.6 1042.7L626.9 1042.1L628.2 1041.4L629.4 1040.7L630.5 1039.9L631.6 1039.0L632.7 1038.2L633.7 1037.3L634.6 1036.5L635.5 1035.7L636.2 1035.0L636.8 1034.3L637.4 1033.7L638.1 1033.1L638.6 1032.4L639.2 1031.8L639.8 1031.1L640.6 1030.2L641.3 1029.3L642.1 1028.3L642.8 1027.3L643.6 1026.3L644.3 1025.2L645.1 1024.2L645.8 1023.1L646.6 1021.9L647.4 1020.7L648.1 1019.6L648.8 1018.3L649.6 1017.1L650.2 1015.9L650.8 1014.7L651.4 1013.4L651.9 1012.2L652.4 1011.0L652.8 1009.8L653.2 1008.6L653.6 1007.5L654.0 1006.5L654.3 1005.6L654.7 1004.7L655.0 1003.8L655.3 1002.9L655.7 1001.9L656.0 1000.9L656.5 999.4L657.0 997.9L657.4 996.3L657.9 994.7L658.4 993.0L658.8 991.4L659.3 989.8L659.7 988.1L660.2 986.5L660.7 984.8L661.1 983.1L661.6 981.5L662.0 979.8L662.4 978.2L662.8 976.8L663.1 975.4L663.4 974.1L663.6 972.8L663.9 971.5L664.2 970.1L664.5 968.6L664.9 966.3L665.4 964.0L665.9 961.5L666.4 958.9L666.9 956.2L667.3 953.3L667.8 950.4L668.3 946.1L668.7 941.6L669.1 936.8L669.5 931.9L669.8 927.0L670.2 922.1L670.6 917.3L671.0 912.5L671.5 907.9L671.9 903.2L672.4 898.5L672.8 893.7L673.3 888.7L673.7 883.4L674.2 876.4L674.6 869.1L675.0 861.5L675.4 853.8L675.7 845.9L676.1 838.0L676.5 830.2L676.9 822.0L677.3 813.8L677.8 805.6L678.2 797.3L678.6 788.9L679.1 780.4L679.5 771.7L680.0 761.8L680.4 751.6L680.9 741.1L681.3 730.6L681.8 720.2L682.2 710.0L682.7 700.1L683.1 691.7L683.5 683.5L683.9 675.5L684.3 667.5L684.8 659.6L685.2 651.8L685.6 644.0L686.0 636.4L686.4 628.9L686.8 621.4L687.2 614.0L687.6 606.6L688.0 599.4L688.4 592.2L688.8 585.5L689.1 578.9L689.5 572.4L689.9 565.9L690.3 559.6L690.8 553.4L691.3 547.5L691.8 542.4L692.2 537.5L692.8 532.7L693.3 528.0L693.9 523.4L694.5 518.9L695.1 514.5L695.7 511.1L696.3 507.8L696.9 504.6L697.5 501.4L698.1 498.1L698.8 494.8L699.4 491.3L700.1 486.9L700.9 482.2L701.6 477.4L702.3 472.6L703.1 468.0L703.8 463.6L704.7 459.6L705.3 456.9L705.9 454.3L706.6 451.9L707.3 449.5L708.0 447.3L708.7 445.2L709.4 443.2L709.9 441.9L710.5 440.6L711.0 439.3L711.5 438.2L712.1 437.1L712.6 436.1L713.2 435.2L713.5 434.6L713.9 434.1L714.3 433.5L714.8 433.2L715.3 432.9L715.8 432.7L716.3 432.5L716.7 432.4L717.1 432.4L717.5 432.3L717.9 432.3L718.2 432.2L718.6 432.2L718.9 432.2L719.3 432.2L719.8 432.2L720.4 432.3L721.0 432.4L721.6 432.6L722.3 432.8L723.0 433.0L723.9 433.3L724.9 433.7L725.8 434.1L726.8 434.6L727.9 435.1L728.9 435.7L730.0 436.3L731.5 437.3L733.1 438.3L734.7 439.4L736.4 440.6L738.1 441.9L739.8 443.2L741.5 444.5L743.7 446.1L746.0 448.0L748.4 449.9L750.8 451.8L753.1 453.7L755.4 455.5L757.5 457.1L758.9 458.1L760.2 459.0L761.4 459.8L762.6 460.6L763.8 461.3L765.1 462.0L766.3 462.8L767.7 463.7L769.2 464.7L770.6 465.6L772.0 466.6L773.6 467.6L775.2 468.7L776.9 469.7L779.3 471.2L781.9 472.6L784.6 474.2L787.4 475.7L790.4 477.3L793.4 478.9L796.5 480.4L800.5 482.4L804.7 484.3L809.0 486.3L813.5 488.3L818.0 490.3L822.4 492.2L826.7 494.1L830.7 495.9L834.6 497.6L838.5 499.3L842.4 500.9L846.3 502.6L850.3 504.2L854.4 505.8L858.8 507.5L863.3 509.1L867.9 510.8L872.4 512.4L877.0 513.9L881.6 515.4L886.1 516.9L890.5 518.3L894.8 519.7L899.1 521.0L903.4 522.2L907.7 523.5L912.1 524.7L916.4 526.0L920.9 527.2L925.4 528.5L930.0 529.7L934.6 530.9L939.1 532.1L943.6 533.2L948.1 534.3L952.4 535.4L956.6 536.3L960.8 537.3L965.0 538.2L969.2 539.1L973.4 540.0L977.6 540.9L981.8 541.7L985.9 542.5L990.0 543.3L994.2 544.1L998.4 544.9L1002.6 545.6L1007.0 546.4L1011.9 547.3L1016.9 548.1L1022.1 549.0L1027.2 549.9L1032.5 550.7L1037.7 551.5L1042.9 552.2L1048.2 552.9L1053.5 553.6L1058.9 554.2L1064.2 554.8L1069.6 555.4L1074.9 555.9L1080.2 556.5L1085.4 557.0L1090.5 557.5L1095.7 558.0L1100.8 558.4L1105.9 558.9L1111.0 559.3L1116.0 559.8L1120.9 560.2L1125.7 560.6L1130.5 561.0L1135.2 561.3L1140.0 561.7L1144.9 562.1L1149.8 562.4L1155.2 562.7L1160.6 563.0L1166.1 563.3L1171.6 563.5L1177.1 563.8L1182.6 564.1L1188.0 564.4L1193.3 564.7L1198.5 565.1L1203.7 565.4L1208.9 565.8L1214.1 566.2L1219.3 566.6L1224.5 567.0L1229.5 567.4L1234.6 567.7L1239.6 568.1L1244.6 568.5L1249.6 568.9L1254.6 569.3L1259.7 569.7L1264.9 570.1L1270.1 570.5L1275.3 570.9L1280.6 571.3L1285.8 571.7L1291.1 572.2L1296.4 572.6L1301.6 573.0L1306.9 573.4L1312.2 573.8L1317.5 574.2L1322.8 574.7L1328.0 575.1L1333.3 575.5L1338.3 575.9L1343.4 576.3L1348.5 576.7L1353.5 577.1L1358.5 577.4L1363.4 577.8L1368.3 578.2L1372.8 578.5L1377.3 578.8L1381.7 579.2L1386.1 579.5L1390.4 579.8L1394.6 580.1L1398.6 580.4L1401.8 580.6L1404.9 580.9L1407.9 581.1L1410.9 581.3L1413.8 581.5L1416.8 581.8L1419.8 582.0L1420.2 576.0L1417.2 575.8L1414.3 575.6L1411.3 575.3L1408.4 575.1L1405.4 574.9L1402.2 574.7L1399.0 574.4L1395.0 574.1L1390.8 573.8L1386.5 573.5L1382.1 573.2L1377.7 572.9L1373.2 572.5L1368.7 572.2L1363.9 571.9L1358.9 571.5L1354.0 571.1L1348.9 570.7L1343.9 570.3L1338.8 569.9L1333.7 569.5L1328.5 569.1L1323.3 568.7L1318.0 568.3L1312.7 567.9L1307.4 567.5L1302.1 567.0L1296.8 566.6L1291.6 566.2L1286.3 565.8L1281.1 565.4L1275.8 565.0L1270.6 564.5L1265.3 564.1L1260.1 563.7L1255.1 563.3L1250.0 562.9L1245.0 562.5L1240.0 562.2L1235.0 561.8L1230.0 561.4L1224.9 561.0L1219.8 560.6L1214.6 560.2L1209.4 559.9L1204.1 559.5L1198.9 559.1L1193.7 558.7L1188.4 558.4L1182.9 558.1L1177.4 557.8L1171.9 557.5L1166.4 557.3L1160.9 557.0L1155.5 556.7L1150.2 556.4L1145.3 556.1L1140.5 555.7L1135.7 555.4L1130.9 555.0L1126.2 554.6L1121.4 554.2L1116.6 553.8L1111.5 553.4L1106.4 552.9L1101.3 552.5L1096.2 552.0L1091.1 551.5L1085.9 551.0L1080.8 550.5L1075.5 550.0L1070.2 549.4L1064.9 548.9L1059.6 548.3L1054.2 547.7L1049.0 547.0L1043.7 546.4L1038.5 545.6L1033.4 544.8L1028.2 544.0L1023.0 543.2L1017.9 542.3L1012.9 541.4L1008.0 540.6L1003.7 539.8L999.4 539.1L995.3 538.3L991.1 537.5L987.0 536.8L982.9 536.0L978.8 535.1L974.6 534.3L970.4 533.4L966.3 532.5L962.1 531.6L957.9 530.6L953.7 529.7L949.5 528.7L945.0 527.6L940.5 526.5L936.0 525.3L931.5 524.1L927.0 522.9L922.4 521.7L918.0 520.4L913.6 519.2L909.3 518.0L905.0 516.7L900.8 515.5L896.5 514.2L892.2 512.8L887.9 511.5L883.4 510.0L878.8 508.5L874.3 507.0L869.7 505.4L865.2 503.8L860.8 502.2L856.4 500.6L852.4 499.0L848.4 497.4L844.5 495.8L840.7 494.2L836.8 492.5L832.9 490.8L828.9 489.1L824.6 487.2L820.2 485.3L815.7 483.3L811.3 481.4L807.0 479.4L802.8 477.5L798.9 475.6L795.8 474.1L792.8 472.5L789.9 471.0L787.1 469.5L784.5 468.1L781.9 466.7L779.5 465.3L777.8 464.3L776.3 463.3L774.8 462.4L773.3 461.4L771.9 460.5L770.5 459.5L769.1 458.6L767.8 457.7L766.5 457.0L765.3 456.2L764.1 455.5L762.9 454.8L761.7 454.0L760.3 453.1L758.3 451.7L756.1 450.0L753.7 448.1L751.3 446.2L749.0 444.3L746.6 442.4L744.5 440.7L742.7 439.4L740.9 438.0L739.2 436.7L737.6 435.5L735.9 434.2L734.3 433.1L732.8 432.1L731.6 431.3L730.5 430.6L729.3 429.9L728.2 429.3L727.1 428.8L726.1 428.3L725.0 427.8L724.2 427.5L723.3 427.1L722.5 426.8L721.6 426.6L720.7 426.4L719.8 426.2L718.9 426.2L718.1 426.3L717.2 426.4L716.5 426.6L715.7 426.9L715.0 427.2L714.3 427.6L713.7 428.1L713.0 428.6L712.4 429.2L711.8 429.8L711.3 430.5L710.6 431.1L709.9 431.7L709.2 432.4L708.4 433.4L707.6 434.5L706.9 435.7L706.2 436.9L705.5 438.3L704.8 439.7L704.2 441.2L703.4 443.3L702.6 445.5L701.8 447.8L701.0 450.3L700.3 452.9L699.6 455.6L698.9 458.4L698.1 462.5L697.2 467.0L696.5 471.7L695.7 476.5L695.0 481.3L694.3 486.0L693.6 490.3L693.0 493.8L692.3 497.1L691.7 500.3L691.1 503.5L690.4 506.7L689.8 510.1L689.3 513.7L688.6 518.1L688.0 522.6L687.4 527.2L686.9 532.0L686.3 536.9L685.8 541.9L685.3 546.9L684.8 553.0L684.4 559.2L683.9 565.6L683.5 572.0L683.2 578.6L682.8 585.2L682.4 591.8L682.0 599.0L681.6 606.3L681.2 613.7L680.8 621.1L680.4 628.6L680.0 636.1L679.6 643.6L679.2 651.5L678.8 659.3L678.4 667.2L677.9 675.2L677.5 683.2L677.1 691.4L676.7 699.9L676.2 709.7L675.8 719.9L675.3 730.3L674.9 740.8L674.4 751.3L674.0 761.5L673.5 771.5L673.1 780.1L672.7 788.6L672.2 797.0L671.8 805.3L671.4 813.5L670.9 821.7L670.5 829.8L670.1 837.7L669.7 845.6L669.4 853.5L669.0 861.2L668.6 868.8L668.2 876.1L667.7 883.0L667.3 888.2L666.9 893.2L666.4 898.0L666.0 902.7L665.5 907.3L665.1 912.0L664.6 916.7L664.2 921.6L663.8 926.5L663.5 931.5L663.1 936.3L662.7 941.0L662.3 945.5L661.8 949.6L661.4 952.5L661.0 955.2L660.6 957.9L660.1 960.4L659.6 962.9L659.1 965.2L658.7 967.4L658.4 968.9L658.1 970.3L657.9 971.6L657.6 972.9L657.4 974.2L657.1 975.5L656.8 976.8L656.4 978.4L656.0 980.0L655.5 981.6L655.1 983.3L654.6 984.9L654.2 986.6L653.7 988.2L653.3 989.8L652.8 991.5L652.4 993.1L651.9 994.7L651.4 996.3L651.0 997.7L650.6 999.1L650.3 1000.1L650.0 1001.1L649.7 1001.9L649.4 1002.8L649.0 1003.7L648.7 1004.6L648.4 1005.5L647.9 1006.7L647.5 1007.8L647.1 1009.0L646.7 1010.1L646.3 1011.3L645.8 1012.4L645.4 1013.5L644.8 1014.7L644.3 1015.8L643.6 1016.9L643.0 1018.1L642.3 1019.2L641.6 1020.3L640.9 1021.4L640.3 1022.4L639.6 1023.4L638.9 1024.4L638.2 1025.4L637.5 1026.4L636.8 1027.3L636.2 1028.1L635.6 1028.8L635.1 1029.5L634.7 1030.1L634.2 1030.7L633.7 1031.3L633.2 1031.8L632.5 1032.3L631.7 1033.0L630.8 1033.7L629.8 1034.4L628.8 1035.0L627.8 1035.6L626.8 1036.1L625.8 1036.6L624.7 1037.1L623.6 1037.5L622.4 1037.9L621.2 1038.2L620.0 1038.5L618.7 1038.8L617.4 1039.1L615.8 1039.4L614.2 1039.6L612.4 1039.8L610.7 1040.0L608.8 1040.1L607.0 1040.2L605.2 1040.2L603.2 1040.2L601.1 1040.2L599.1 1040.1L597.0 1039.9L594.8 1039.7L592.6 1039.5L590.3 1039.3L587.5 1039.0L584.6 1038.7L581.5 1038.3L578.5 1037.9L575.4 1037.5L572.4 1037.1L569.5 1036.7L567.0 1036.3L564.5 1035.9L562.0 1035.5L559.6 1035.1L557.2 1034.6L554.8 1034.2L552.5 1033.8L550.6 1033.4L548.8 1033.1L547.0 1032.7L545.2 1032.4L543.4 1032.0L541.4 1031.6L539.2 1031.1L535.5 1030.3L531.3 1029.4L526.7 1028.5L522.1 1027.4L517.5 1026.4L513.3 1025.5L509.5 1024.6L507.1 1024.0L504.9 1023.4L502.9 1022.9L500.8 1022.4L498.9 1021.8L496.9 1021.3L494.8 1020.7L492.6 1020.1L490.4 1019.5L488.3 1018.9L486.1 1018.3L483.9 1017.7L481.5 1017.0L479.0 1016.2L475.2 1015.1L470.9 1013.9L466.4 1012.5L461.9 1011.1L457.4 1009.8L453.2 1008.5L449.5 1007.3L447.1 1006.5L444.9 1005.8L442.9 1005.0L440.9 1004.3L438.9 1003.6L436.8 1002.9L434.7 1002.1L432.5 1001.3L430.3 1000.6L428.2 999.9L426.0 999.1L423.7 998.3L421.4 997.4L418.9 996.4L415.1 994.9L410.9 993.1L406.6 991.1L402.1 989.1L397.8 987.0L393.6 985.0L389.8 983.1L387.1 981.7L384.5 980.3L382.0 979.0L379.6 977.6L377.2 976.2L374.9 974.9L372.6 973.6L370.5 972.5L368.6 971.5L366.7 970.5L364.8 969.6L363.0 968.6L361.1 967.6L359.3 966.6L357.5 965.5L355.7 964.4L353.9 963.1L352.2 961.9L350.4 960.6L348.7 959.3L346.9 958.1L345.3 956.9L343.7 955.7L342.1 954.5L340.6 953.3L339.0 952.1L337.4 950.9L335.8 949.6L334.1 948.4L332.4 947.2L330.6 946.0L328.9 944.8L327.2 943.7L325.7 942.5L324.3 941.4L323.4 940.4L322.6 939.3L321.8 938.2L321.1 937.0L320.2 935.9L319.3 934.7L318.4 933.6L317.4 932.6L316.3 931.5L315.3 930.5L314.3 929.4L313.3 928.5L312.4 927.5L311.6 926.6L311.0 925.9L310.4 925.3L309.8 924.7L309.3 924.1L308.8 923.5L308.2 922.9L307.7 922.3L307.0 921.6L306.4 920.8L305.7 920.1L305.1 919.3L304.5 918.5L303.8 917.7L303.2 916.9L302.6 916.2L302.1 915.4L301.5 914.6L300.9 913.9L300.4 913.1L299.8 912.3L299.2 911.4L298.4 910.2L297.6 909.0L296.8 907.8L295.9 906.5L295.1 905.2L294.3 903.9L293.6 902.7L292.9 901.6L292.3 900.6L291.8 899.6L291.2 898.6L290.6 897.6L290.1 896.6L289.5 895.5L288.9 894.4L288.2 893.2L287.6 892.0L287.0 890.8L286.3 889.6L285.7 888.4L285.1 887.2L284.4 885.9L283.8 884.6L283.1 883.3L282.5 882.0L281.9 880.7L281.2 879.4L280.6 878.1L280.1 877.0L279.6 875.9L279.0 874.8L278.5 873.7L278.0 872.6L277.5 871.4L276.9 870.1L276.0 868.0L275.0 865.6L274.0 863.1L272.9 860.5L271.9 857.9L270.8 855.3L269.9 853.0L269.1 851.1L268.4 849.2L267.7 847.4L267.0 845.7L266.3 843.9L265.7 842.1L265.1 840.3L264.5 838.3L263.9 836.3L263.3 834.2L262.7 832.1L262.1 829.9L261.6 827.8L261.0 825.7L260.4 823.7L259.9 821.8L259.4 819.8L258.8 817.8L258.3 815.9L257.8 813.8L257.2 811.8L256.6 809.3L255.9 806.9L255.2 804.3L254.5 801.8L253.9 799.2L253.2 796.7L252.6 794.3L252.1 792.2L251.6 790.1L251.1 788.0L250.6 786.0L250.1 783.9L249.6 781.9L249.1 779.8L248.7 777.8L248.2 775.9L247.8 773.9L247.4 772.0L246.9 770.0L246.5 767.9L246.1 765.8L245.6 762.9L245.1 759.8L244.6 756.5L244.1 753.3L243.6 749.9L243.2 746.7L242.7 743.6L242.4 740.8L242.0 738.1L241.6 735.5L241.3 732.9L240.9 730.2L240.6 727.6L240.3 725.0L239.9 722.5L239.7 720.0L239.4 717.6L239.1 715.1L238.8 712.6L238.5 710.2L238.3 707.7L238.0 705.1L237.7 702.6L237.4 700.1L237.2 697.5L236.9 694.9L236.6 692.3L236.4 689.7L236.1 686.9L235.8 684.0L235.6 681.1L235.3 678.2L235.1 675.3L234.8 672.3L234.6 669.4L234.3 666.3L234.1 663.3L233.9 660.2L233.7 657.1L233.5 654.0L233.3 650.9L233.1 647.8L232.9 644.5L232.7 641.2L232.4 637.9L232.2 634.5L232.0 631.2L231.8 627.9L231.6 624.8L231.4 622.1L231.2 619.6L231.0 617.0L230.8 614.6L230.7 612.1L230.5 609.5L230.3 606.8L230.1 603.5L229.8 600.2L229.6 596.7L229.4 593.2L229.2 589.7L229.0 586.3L228.8 582.9L228.6 579.6L228.5 576.4L228.4 573.2L228.3 569.9L228.2 566.7L228.1 563.3L228.0 559.9L227.8 555.8L227.7 551.7L227.5 547.4L227.3 543.1L227.1 538.7L226.9 534.3L226.7 529.9L226.5 525.0L226.3 520.1L226.0 515.1L225.8 510.0L225.6 505.0L225.4 499.9L225.2 494.9L225.0 489.9L224.8 484.9L224.6 479.8L224.4 474.8L224.2 469.8L224.1 464.8L223.9 459.9L223.7 455.1L223.6 450.5L223.4 445.9L223.3 441.2L223.1 436.5L223.0 431.7L222.9 426.6L222.8 420.4L222.7 413.9L222.6 407.3L222.5 400.5L222.4 393.6L222.3 386.8L222.2 380.0L222.1 372.9L222.0 365.8L221.9 358.7L221.9 351.5L221.8 344.3L221.7 337.1L221.6 330.0L221.5 322.8L221.4 315.7L221.3 308.5L221.2 301.4L221.1 294.2L221.0 287.1L220.9 280.0L220.8 272.8L220.7 265.7L220.6 258.5L220.5 251.4L220.4 244.2L220.3 237.1L220.2 230.0L220.1 222.8L220.0 215.7L219.9 208.5L219.8 201.4L219.7 194.2L219.6 187.1L219.5 180.0L219.4 172.8L219.3 165.5L219.3 158.3L219.2 151.1L219.1 143.9L219.1 136.8L219.0 130.0L218.9 123.8L218.8 117.7L218.7 111.7L218.6 105.8L218.5 100.0L218.5 94.4L218.4 89.0L218.4 84.6L218.3 80.3L218.3 76.2L218.3 72.1L218.2 68.1L218.2 64.1L218.2 60.0Z" fill="#ff8000"/></g>
</g>
<g stroke="#000" fill="none">
<path d="M170.9 90.8V1179.2" stroke-width="6.0"/>
<path d="M167.9 1176.2H1401.9" stroke-width="6.0"/>
<path d="M170.9 813.9H198.5M170.9 451.5H198.5M170.9 89.2H198.5" stroke-width="6.0"/>
<path d="M170.9 1104.3H188.2M170.9 1031.9H188.2M170.9 959.4H188.2M170.9 886.9H188.2M170.9 742.0H188.2M170.9 669.5H188.2M170.9 597.1H188.2M170.9 524.6H188.2M170.9 379.7H188.2M170.9 307.2H188.2M170.9 234.7H188.2M170.9 162.3H188.2" stroke-width="1.35"/>
<path d="M200.7 1176.2V1151.3M500.2 1176.2V1151.3M799.8 1176.2V1151.3M1099.4 1176.2V1151.3M1398.9 1176.2V1151.3" stroke-width="6.0"/>
<path d="M262.4 1176.2V1161.4M320.7 1176.2V1161.4M381.3 1176.2V1161.4M441.2 1176.2V1161.4M560.5 1176.2V1161.4M620.9 1176.2V1161.4M680.9 1176.2V1161.4M740.0 1176.2V1161.4M860.3 1176.2V1161.4M920.3 1176.2V1161.4M979.4 1176.2V1161.4M1039.6 1176.2V1161.4M1159.8 1176.2V1161.4M1218.8 1176.2V1161.4M1279.1 1176.2V1161.4M1339.1 1176.2V1161.4" stroke-width="1.35"/>
</g>
<g font-family="'Liberation Sans',sans-serif" font-weight="bold" fill="#000">
<text transform="translate(156.6 106.1) scale(1 1.05)" font-size="46" text-anchor="end" letter-spacing="1.2">0.003</text>
<text transform="translate(156.6 468.4) scale(1 1.05)" font-size="46" text-anchor="end" letter-spacing="1.2">0.002</text>
<text transform="translate(157.4 830.8) scale(1 1.05)" font-size="46" text-anchor="end" letter-spacing="1.2">0.001</text>
<text transform="translate(156.6 1193.1) scale(1 1.05)" font-size="46" text-anchor="end" letter-spacing="1.2">0</text>
<text transform="translate(201.3 1222.8) scale(1 1.05)" font-size="46" text-anchor="middle" letter-spacing="1.2">0</text>
<text transform="translate(500.9 1222.8) scale(1 1.05)" font-size="46" text-anchor="middle" letter-spacing="1.2">0.5</text>
<text transform="translate(802.4 1222.8) scale(1 1.05)" font-size="46" text-anchor="middle" letter-spacing="1.2">1</text>
<text transform="translate(1101.5 1222.8) scale(1 1.05)" font-size="46" text-anchor="middle" letter-spacing="1.2">1.5</text>
<text transform="translate(1399.5 1222.8) scale(1 1.05)" font-size="46" text-anchor="middle" letter-spacing="1.2">2</text>
<text transform="translate(786.0 1272.3) scale(1 1.035)" font-size="60" text-anchor="middle" letter-spacing="1.5">X(m)</text>
<g transform="translate(80.8 661.3) rotate(-90) scale(1 1.11)"><text x="0" y="0" font-size="58.5">C<tspan font-size="35.5" dy="16.3" dx="1.5">f</tspan></text></g>
<text transform="translate(1260.3 89.4) scale(1 1.05)" font-size="46" text-anchor="start" letter-spacing="1.2" word-spacing="-1">Grid A</text>
<text transform="translate(1260.3 146.6) scale(1 1.05)" font-size="46" text-anchor="start" letter-spacing="1.2" word-spacing="-1">Grid B</text>
<text transform="translate(1260.3 203.8) scale(1 1.05)" font-size="46" text-anchor="start" letter-spacing="1.2" word-spacing="-1">Grid C</text>
<text transform="translate(1260.3 261.0) scale(1 1.05)" font-size="46" text-anchor="start" letter-spacing="1.2" word-spacing="-1">Grid D</text>
</g>
<g fill="#fff">
<rect x="790.23" y="1217.2" width="9.5" height="6.8"/>
<rect x="806.05" y="1217.2" width="8.5" height="6.8"/>
<rect x="1068.99" y="1217.2" width="9.5" height="6.8"/>
<rect x="1084.78" y="1217.2" width="8.5" height="6.8"/>
<rect x="131.75" y="825.2" width="9.5" height="6.8"/>
<rect x="147.54" y="825.2" width="8.5" height="6.8"/>
</g>
<g fill="none" stroke-width="6.0">
<path d="M1009.3 74.4H1224.1" stroke="#00a850"/>
<path d="M1009.3 131.7H1224.1" stroke="#d00000"/>
<path d="M1009.3 188.8H1224.1" stroke="#000"/>
<rect x="1110.0" y="181.9" width="15.1" height="15.1" stroke="#000" stroke-width="3.9"/>
<path d="M1009.3 245.9H1224.1" stroke="#ff8000" stroke-dasharray="23.6 23.4"/>
</g>
</svg>
</body></html>
